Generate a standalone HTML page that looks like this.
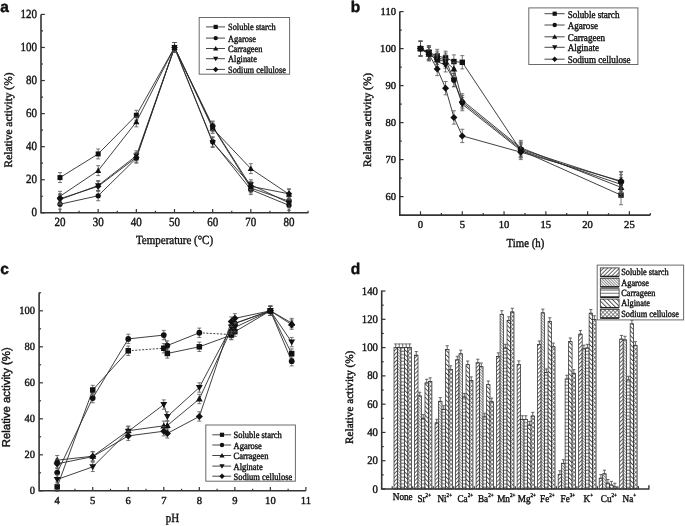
<!DOCTYPE html><html><head><meta charset="utf-8"><style>html,body{margin:0;padding:0;background:#fff;width:685px;height:526px;overflow:hidden}svg{display:block;filter:blur(0.45px)}</style></head><body>
<svg width="685" height="526" viewBox="0 0 685 526" text-rendering="geometricPrecision">
<defs>
<pattern id="p0" patternUnits="userSpaceOnUse" width="2.8" height="2.8" patternTransform="rotate(45)"><rect width="2.8" height="2.8" fill="#fff"/><line x1="0.5" y1="0" x2="0.5" y2="2.8" stroke="#2a2a2a" stroke-width="0.75"/></pattern>
<pattern id="p1" patternUnits="userSpaceOnUse" width="2.0" height="2.0" patternTransform="rotate(-45)"><rect width="2" height="2" fill="#fff"/><line x1="0.5" y1="0" x2="0.5" y2="2" stroke="#444" stroke-width="0.6"/></pattern>
<pattern id="p2" patternUnits="userSpaceOnUse" width="3.4" height="3.4"><rect width="3.4" height="3.4" fill="#fff"/><line x1="0" y1="1" x2="3.4" y2="1" stroke="#333" stroke-width="0.75"/></pattern>
<pattern id="p3" patternUnits="userSpaceOnUse" width="3.2" height="3.2" patternTransform="rotate(-45)"><rect width="3.2" height="3.2" fill="#fff"/><line x1="0.5" y1="0" x2="0.5" y2="3.2" stroke="#2a2a2a" stroke-width="0.8"/></pattern>
<pattern id="p4" patternUnits="userSpaceOnUse" width="2.9" height="2.9" patternTransform="rotate(45)"><rect width="2.9" height="2.9" fill="#fff"/><line x1="0.5" y1="0" x2="0.5" y2="2.9" stroke="#3a3a3a" stroke-width="0.6"/><line x1="0" y1="0.5" x2="2.9" y2="0.5" stroke="#3a3a3a" stroke-width="0.6"/></pattern>
</defs>
<rect width="685" height="526" fill="#fff"/>
<text transform="translate(0.3 12.1) scale(1.0000 1)" font-size="15.5" text-anchor="start" font-family='"Liberation Sans", sans-serif' font-weight="bold" fill="#111" stroke="#111" stroke-width="0.45">a</text>
<path d="M41 14.4 V212.8 H308.3" fill="none" stroke="#333" stroke-width="1.6"/>
<line x1="41" y1="212.8" x2="44.8" y2="212.8" stroke="#333" stroke-width="1.2"/>
<text transform="translate(37 216.2) scale(0.8850 1)" font-size="12.43" text-anchor="end" font-family='"Liberation Serif", serif' font-weight="normal" fill="#111" stroke="#111" stroke-width="0.4">0</text>
<line x1="41" y1="179.73" x2="44.8" y2="179.73" stroke="#333" stroke-width="1.2"/>
<text transform="translate(37 183.13) scale(0.8850 1)" font-size="12.43" text-anchor="end" font-family='"Liberation Serif", serif' font-weight="normal" fill="#111" stroke="#111" stroke-width="0.4">20</text>
<line x1="41" y1="146.67" x2="44.8" y2="146.67" stroke="#333" stroke-width="1.2"/>
<text transform="translate(37 150.07) scale(0.8850 1)" font-size="12.43" text-anchor="end" font-family='"Liberation Serif", serif' font-weight="normal" fill="#111" stroke="#111" stroke-width="0.4">40</text>
<line x1="41" y1="113.6" x2="44.8" y2="113.6" stroke="#333" stroke-width="1.2"/>
<text transform="translate(37 117) scale(0.8850 1)" font-size="12.43" text-anchor="end" font-family='"Liberation Serif", serif' font-weight="normal" fill="#111" stroke="#111" stroke-width="0.4">60</text>
<line x1="41" y1="80.54" x2="44.8" y2="80.54" stroke="#333" stroke-width="1.2"/>
<text transform="translate(37 83.94) scale(0.8850 1)" font-size="12.43" text-anchor="end" font-family='"Liberation Serif", serif' font-weight="normal" fill="#111" stroke="#111" stroke-width="0.4">80</text>
<line x1="41" y1="47.47" x2="44.8" y2="47.47" stroke="#333" stroke-width="1.2"/>
<text transform="translate(37 50.87) scale(0.8850 1)" font-size="12.43" text-anchor="end" font-family='"Liberation Serif", serif' font-weight="normal" fill="#111" stroke="#111" stroke-width="0.4">100</text>
<line x1="41" y1="14.4" x2="44.8" y2="14.4" stroke="#333" stroke-width="1.2"/>
<text transform="translate(37 17.8) scale(0.8850 1)" font-size="12.43" text-anchor="end" font-family='"Liberation Serif", serif' font-weight="normal" fill="#111" stroke="#111" stroke-width="0.4">120</text>
<line x1="41" y1="196.27" x2="43" y2="196.27" stroke="#333" stroke-width="1.2"/>
<line x1="41" y1="163.2" x2="43" y2="163.2" stroke="#333" stroke-width="1.2"/>
<line x1="41" y1="130.13" x2="43" y2="130.13" stroke="#333" stroke-width="1.2"/>
<line x1="41" y1="97.07" x2="43" y2="97.07" stroke="#333" stroke-width="1.2"/>
<line x1="41" y1="64" x2="43" y2="64" stroke="#333" stroke-width="1.2"/>
<line x1="41" y1="30.94" x2="43" y2="30.94" stroke="#333" stroke-width="1.2"/>
<line x1="60" y1="212.8" x2="60" y2="209" stroke="#333" stroke-width="1.2"/>
<text transform="translate(60 225.7) scale(0.8850 1)" font-size="12.43" text-anchor="middle" font-family='"Liberation Serif", serif' font-weight="normal" fill="#111" stroke="#111" stroke-width="0.4">20</text>
<line x1="98.17" y1="212.8" x2="98.17" y2="209" stroke="#333" stroke-width="1.2"/>
<text transform="translate(98.17 225.7) scale(0.8850 1)" font-size="12.43" text-anchor="middle" font-family='"Liberation Serif", serif' font-weight="normal" fill="#111" stroke="#111" stroke-width="0.4">30</text>
<line x1="136.33" y1="212.8" x2="136.33" y2="209" stroke="#333" stroke-width="1.2"/>
<text transform="translate(136.33 225.7) scale(0.8850 1)" font-size="12.43" text-anchor="middle" font-family='"Liberation Serif", serif' font-weight="normal" fill="#111" stroke="#111" stroke-width="0.4">40</text>
<line x1="174.5" y1="212.8" x2="174.5" y2="209" stroke="#333" stroke-width="1.2"/>
<text transform="translate(174.5 225.7) scale(0.8850 1)" font-size="12.43" text-anchor="middle" font-family='"Liberation Serif", serif' font-weight="normal" fill="#111" stroke="#111" stroke-width="0.4">50</text>
<line x1="212.67" y1="212.8" x2="212.67" y2="209" stroke="#333" stroke-width="1.2"/>
<text transform="translate(212.67 225.7) scale(0.8850 1)" font-size="12.43" text-anchor="middle" font-family='"Liberation Serif", serif' font-weight="normal" fill="#111" stroke="#111" stroke-width="0.4">60</text>
<line x1="250.84" y1="212.8" x2="250.84" y2="209" stroke="#333" stroke-width="1.2"/>
<text transform="translate(250.84 225.7) scale(0.8850 1)" font-size="12.43" text-anchor="middle" font-family='"Liberation Serif", serif' font-weight="normal" fill="#111" stroke="#111" stroke-width="0.4">70</text>
<line x1="289" y1="212.8" x2="289" y2="209" stroke="#333" stroke-width="1.2"/>
<text transform="translate(289 225.7) scale(0.8850 1)" font-size="12.43" text-anchor="middle" font-family='"Liberation Serif", serif' font-weight="normal" fill="#111" stroke="#111" stroke-width="0.4">80</text>
<line x1="79.08" y1="212.8" x2="79.08" y2="210.8" stroke="#333" stroke-width="1.2"/>
<line x1="117.25" y1="212.8" x2="117.25" y2="210.8" stroke="#333" stroke-width="1.2"/>
<line x1="155.42" y1="212.8" x2="155.42" y2="210.8" stroke="#333" stroke-width="1.2"/>
<line x1="193.58" y1="212.8" x2="193.58" y2="210.8" stroke="#333" stroke-width="1.2"/>
<line x1="231.75" y1="212.8" x2="231.75" y2="210.8" stroke="#333" stroke-width="1.2"/>
<line x1="269.92" y1="212.8" x2="269.92" y2="210.8" stroke="#333" stroke-width="1.2"/>
<line x1="308.09" y1="212.8" x2="308.09" y2="210.8" stroke="#333" stroke-width="1.2"/>
<text transform="translate(11.5 120) rotate(-90) scale(1 1)" font-size="11.4" text-anchor="middle" font-family='"Liberation Serif", serif' font-weight="normal" fill="#111" stroke="#111" stroke-width="0.4">Relative activity (%)</text>
<text transform="translate(174.5 244.3) scale(0.8850 1)" font-size="12.43" text-anchor="middle" font-family='"Liberation Serif", serif' font-weight="normal" fill="#111" stroke="#111" stroke-width="0.4">Temperature (°C)</text>
<line x1="60" y1="177.58" x2="98.17" y2="153.94" stroke="#2b2b2b" stroke-width="0.9"/>
<line x1="98.17" y1="153.94" x2="136.33" y2="115.26" stroke="#2b2b2b" stroke-width="0.9"/>
<line x1="136.33" y1="115.26" x2="174.5" y2="47.47" stroke="#2b2b2b" stroke-width="0.9"/>
<line x1="174.5" y1="47.47" x2="212.67" y2="126.83" stroke="#2b2b2b" stroke-width="0.9"/>
<line x1="212.67" y1="126.83" x2="250.84" y2="188" stroke="#2b2b2b" stroke-width="0.9"/>
<line x1="250.84" y1="188" x2="289" y2="201.23" stroke="#2b2b2b" stroke-width="0.9"/>
<line x1="60" y1="204.2" x2="98.17" y2="195.77" stroke="#2b2b2b" stroke-width="0.9"/>
<line x1="98.17" y1="195.77" x2="136.33" y2="158.24" stroke="#2b2b2b" stroke-width="0.9"/>
<line x1="136.33" y1="158.24" x2="174.5" y2="47.47" stroke="#2b2b2b" stroke-width="0.9"/>
<line x1="174.5" y1="47.47" x2="212.67" y2="141.71" stroke="#2b2b2b" stroke-width="0.9"/>
<line x1="212.67" y1="141.71" x2="250.84" y2="189.65" stroke="#2b2b2b" stroke-width="0.9"/>
<line x1="250.84" y1="189.65" x2="289" y2="205.36" stroke="#2b2b2b" stroke-width="0.9"/>
<line x1="60" y1="196.27" x2="98.17" y2="170.64" stroke="#2b2b2b" stroke-width="0.9"/>
<line x1="98.17" y1="170.64" x2="136.33" y2="121.87" stroke="#2b2b2b" stroke-width="0.9"/>
<line x1="136.33" y1="121.87" x2="174.5" y2="47.47" stroke="#2b2b2b" stroke-width="0.9"/>
<line x1="174.5" y1="47.47" x2="212.67" y2="128.48" stroke="#2b2b2b" stroke-width="0.9"/>
<line x1="212.67" y1="128.48" x2="250.84" y2="168.66" stroke="#2b2b2b" stroke-width="0.9"/>
<line x1="250.84" y1="168.66" x2="289" y2="194.28" stroke="#2b2b2b" stroke-width="0.9"/>
<line x1="60" y1="199.57" x2="98.17" y2="185.52" stroke="#2b2b2b" stroke-width="0.9"/>
<line x1="98.17" y1="185.52" x2="136.33" y2="155.76" stroke="#2b2b2b" stroke-width="0.9"/>
<line x1="136.33" y1="155.76" x2="174.5" y2="47.47" stroke="#2b2b2b" stroke-width="0.9"/>
<line x1="174.5" y1="47.47" x2="212.67" y2="142.53" stroke="#2b2b2b" stroke-width="0.9"/>
<line x1="212.67" y1="142.53" x2="250.84" y2="184.69" stroke="#2b2b2b" stroke-width="0.9"/>
<line x1="250.84" y1="184.69" x2="289" y2="202.88" stroke="#2b2b2b" stroke-width="0.9"/>
<line x1="60" y1="198.75" x2="98.17" y2="186.35" stroke="#2b2b2b" stroke-width="0.9"/>
<line x1="98.17" y1="186.35" x2="136.33" y2="157.41" stroke="#2b2b2b" stroke-width="0.9"/>
<line x1="136.33" y1="157.41" x2="174.5" y2="47.47" stroke="#2b2b2b" stroke-width="0.9"/>
<line x1="174.5" y1="47.47" x2="212.67" y2="126" stroke="#2b2b2b" stroke-width="0.9"/>
<line x1="212.67" y1="126" x2="250.84" y2="186.35" stroke="#2b2b2b" stroke-width="0.9"/>
<line x1="250.84" y1="186.35" x2="289" y2="193.79" stroke="#2b2b2b" stroke-width="0.9"/>
<line x1="60" y1="172.62" x2="60" y2="182.54" stroke="#555" stroke-width="0.8"/>
<line x1="58" y1="172.62" x2="62" y2="172.62" stroke="#555" stroke-width="0.8"/>
<line x1="58" y1="182.54" x2="62" y2="182.54" stroke="#555" stroke-width="0.8"/>
<line x1="98.17" y1="148.98" x2="98.17" y2="158.9" stroke="#555" stroke-width="0.8"/>
<line x1="96.17" y1="148.98" x2="100.17" y2="148.98" stroke="#555" stroke-width="0.8"/>
<line x1="96.17" y1="158.9" x2="100.17" y2="158.9" stroke="#555" stroke-width="0.8"/>
<line x1="136.33" y1="110.3" x2="136.33" y2="120.22" stroke="#555" stroke-width="0.8"/>
<line x1="134.33" y1="110.3" x2="138.33" y2="110.3" stroke="#555" stroke-width="0.8"/>
<line x1="134.33" y1="120.22" x2="138.33" y2="120.22" stroke="#555" stroke-width="0.8"/>
<line x1="174.5" y1="42.51" x2="174.5" y2="52.43" stroke="#555" stroke-width="0.8"/>
<line x1="172.5" y1="42.51" x2="176.5" y2="42.51" stroke="#555" stroke-width="0.8"/>
<line x1="172.5" y1="52.43" x2="176.5" y2="52.43" stroke="#555" stroke-width="0.8"/>
<line x1="212.67" y1="121.87" x2="212.67" y2="131.79" stroke="#555" stroke-width="0.8"/>
<line x1="210.67" y1="121.87" x2="214.67" y2="121.87" stroke="#555" stroke-width="0.8"/>
<line x1="210.67" y1="131.79" x2="214.67" y2="131.79" stroke="#555" stroke-width="0.8"/>
<line x1="250.84" y1="183.04" x2="250.84" y2="192.96" stroke="#555" stroke-width="0.8"/>
<line x1="248.84" y1="183.04" x2="252.84" y2="183.04" stroke="#555" stroke-width="0.8"/>
<line x1="248.84" y1="192.96" x2="252.84" y2="192.96" stroke="#555" stroke-width="0.8"/>
<line x1="289" y1="196.27" x2="289" y2="206.19" stroke="#555" stroke-width="0.8"/>
<line x1="287" y1="196.27" x2="291" y2="196.27" stroke="#555" stroke-width="0.8"/>
<line x1="287" y1="206.19" x2="291" y2="206.19" stroke="#555" stroke-width="0.8"/>
<rect x="57.5" y="175.08" width="5" height="5" fill="#111"/>
<rect x="95.67" y="151.44" width="5" height="5" fill="#111"/>
<rect x="133.83" y="112.76" width="5" height="5" fill="#111"/>
<rect x="172" y="44.97" width="5" height="5" fill="#111"/>
<rect x="210.17" y="124.33" width="5" height="5" fill="#111"/>
<rect x="248.34" y="185.5" width="5" height="5" fill="#111"/>
<rect x="286.5" y="198.73" width="5" height="5" fill="#111"/>
<line x1="60" y1="199.24" x2="60" y2="209.16" stroke="#555" stroke-width="0.8"/>
<line x1="58" y1="199.24" x2="62" y2="199.24" stroke="#555" stroke-width="0.8"/>
<line x1="58" y1="209.16" x2="62" y2="209.16" stroke="#555" stroke-width="0.8"/>
<line x1="98.17" y1="190.81" x2="98.17" y2="200.73" stroke="#555" stroke-width="0.8"/>
<line x1="96.17" y1="190.81" x2="100.17" y2="190.81" stroke="#555" stroke-width="0.8"/>
<line x1="96.17" y1="200.73" x2="100.17" y2="200.73" stroke="#555" stroke-width="0.8"/>
<line x1="136.33" y1="153.28" x2="136.33" y2="163.2" stroke="#555" stroke-width="0.8"/>
<line x1="134.33" y1="153.28" x2="138.33" y2="153.28" stroke="#555" stroke-width="0.8"/>
<line x1="134.33" y1="163.2" x2="138.33" y2="163.2" stroke="#555" stroke-width="0.8"/>
<line x1="174.5" y1="42.51" x2="174.5" y2="52.43" stroke="#555" stroke-width="0.8"/>
<line x1="172.5" y1="42.51" x2="176.5" y2="42.51" stroke="#555" stroke-width="0.8"/>
<line x1="172.5" y1="52.43" x2="176.5" y2="52.43" stroke="#555" stroke-width="0.8"/>
<line x1="212.67" y1="136.75" x2="212.67" y2="146.67" stroke="#555" stroke-width="0.8"/>
<line x1="210.67" y1="136.75" x2="214.67" y2="136.75" stroke="#555" stroke-width="0.8"/>
<line x1="210.67" y1="146.67" x2="214.67" y2="146.67" stroke="#555" stroke-width="0.8"/>
<line x1="250.84" y1="184.69" x2="250.84" y2="194.61" stroke="#555" stroke-width="0.8"/>
<line x1="248.84" y1="184.69" x2="252.84" y2="184.69" stroke="#555" stroke-width="0.8"/>
<line x1="248.84" y1="194.61" x2="252.84" y2="194.61" stroke="#555" stroke-width="0.8"/>
<line x1="289" y1="200.4" x2="289" y2="210.32" stroke="#555" stroke-width="0.8"/>
<line x1="287" y1="200.4" x2="291" y2="200.4" stroke="#555" stroke-width="0.8"/>
<line x1="287" y1="210.32" x2="291" y2="210.32" stroke="#555" stroke-width="0.8"/>
<circle cx="60" cy="204.2" r="2.62" fill="#111"/>
<circle cx="98.17" cy="195.77" r="2.62" fill="#111"/>
<circle cx="136.33" cy="158.24" r="2.62" fill="#111"/>
<circle cx="174.5" cy="47.47" r="2.62" fill="#111"/>
<circle cx="212.67" cy="141.71" r="2.62" fill="#111"/>
<circle cx="250.84" cy="189.65" r="2.62" fill="#111"/>
<circle cx="289" cy="205.36" r="2.62" fill="#111"/>
<line x1="60" y1="191.31" x2="60" y2="201.23" stroke="#555" stroke-width="0.8"/>
<line x1="58" y1="191.31" x2="62" y2="191.31" stroke="#555" stroke-width="0.8"/>
<line x1="58" y1="201.23" x2="62" y2="201.23" stroke="#555" stroke-width="0.8"/>
<line x1="98.17" y1="165.68" x2="98.17" y2="175.6" stroke="#555" stroke-width="0.8"/>
<line x1="96.17" y1="165.68" x2="100.17" y2="165.68" stroke="#555" stroke-width="0.8"/>
<line x1="96.17" y1="175.6" x2="100.17" y2="175.6" stroke="#555" stroke-width="0.8"/>
<line x1="136.33" y1="116.91" x2="136.33" y2="126.83" stroke="#555" stroke-width="0.8"/>
<line x1="134.33" y1="116.91" x2="138.33" y2="116.91" stroke="#555" stroke-width="0.8"/>
<line x1="134.33" y1="126.83" x2="138.33" y2="126.83" stroke="#555" stroke-width="0.8"/>
<line x1="174.5" y1="42.51" x2="174.5" y2="52.43" stroke="#555" stroke-width="0.8"/>
<line x1="172.5" y1="42.51" x2="176.5" y2="42.51" stroke="#555" stroke-width="0.8"/>
<line x1="172.5" y1="52.43" x2="176.5" y2="52.43" stroke="#555" stroke-width="0.8"/>
<line x1="212.67" y1="123.52" x2="212.67" y2="133.44" stroke="#555" stroke-width="0.8"/>
<line x1="210.67" y1="123.52" x2="214.67" y2="123.52" stroke="#555" stroke-width="0.8"/>
<line x1="210.67" y1="133.44" x2="214.67" y2="133.44" stroke="#555" stroke-width="0.8"/>
<line x1="250.84" y1="163.7" x2="250.84" y2="173.62" stroke="#555" stroke-width="0.8"/>
<line x1="248.84" y1="163.7" x2="252.84" y2="163.7" stroke="#555" stroke-width="0.8"/>
<line x1="248.84" y1="173.62" x2="252.84" y2="173.62" stroke="#555" stroke-width="0.8"/>
<line x1="289" y1="189.32" x2="289" y2="199.24" stroke="#555" stroke-width="0.8"/>
<line x1="287" y1="189.32" x2="291" y2="189.32" stroke="#555" stroke-width="0.8"/>
<line x1="287" y1="199.24" x2="291" y2="199.24" stroke="#555" stroke-width="0.8"/>
<polygon points="60,193.14 56.88,198.61 63.12,198.61" fill="#111"/>
<polygon points="98.17,167.52 95.04,172.98 101.29,172.98" fill="#111"/>
<polygon points="136.33,118.74 133.21,124.21 139.46,124.21" fill="#111"/>
<polygon points="174.5,44.34 171.38,49.81 177.63,49.81" fill="#111"/>
<polygon points="212.67,125.36 209.54,130.83 215.79,130.83" fill="#111"/>
<polygon points="250.84,165.53 247.71,171 253.96,171" fill="#111"/>
<polygon points="289,191.16 285.88,196.63 292.13,196.63" fill="#111"/>
<line x1="60" y1="194.61" x2="60" y2="204.53" stroke="#555" stroke-width="0.8"/>
<line x1="58" y1="194.61" x2="62" y2="194.61" stroke="#555" stroke-width="0.8"/>
<line x1="58" y1="204.53" x2="62" y2="204.53" stroke="#555" stroke-width="0.8"/>
<line x1="98.17" y1="180.56" x2="98.17" y2="190.48" stroke="#555" stroke-width="0.8"/>
<line x1="96.17" y1="180.56" x2="100.17" y2="180.56" stroke="#555" stroke-width="0.8"/>
<line x1="96.17" y1="190.48" x2="100.17" y2="190.48" stroke="#555" stroke-width="0.8"/>
<line x1="136.33" y1="150.8" x2="136.33" y2="160.72" stroke="#555" stroke-width="0.8"/>
<line x1="134.33" y1="150.8" x2="138.33" y2="150.8" stroke="#555" stroke-width="0.8"/>
<line x1="134.33" y1="160.72" x2="138.33" y2="160.72" stroke="#555" stroke-width="0.8"/>
<line x1="174.5" y1="42.51" x2="174.5" y2="52.43" stroke="#555" stroke-width="0.8"/>
<line x1="172.5" y1="42.51" x2="176.5" y2="42.51" stroke="#555" stroke-width="0.8"/>
<line x1="172.5" y1="52.43" x2="176.5" y2="52.43" stroke="#555" stroke-width="0.8"/>
<line x1="212.67" y1="137.57" x2="212.67" y2="147.49" stroke="#555" stroke-width="0.8"/>
<line x1="210.67" y1="137.57" x2="214.67" y2="137.57" stroke="#555" stroke-width="0.8"/>
<line x1="210.67" y1="147.49" x2="214.67" y2="147.49" stroke="#555" stroke-width="0.8"/>
<line x1="250.84" y1="179.73" x2="250.84" y2="189.65" stroke="#555" stroke-width="0.8"/>
<line x1="248.84" y1="179.73" x2="252.84" y2="179.73" stroke="#555" stroke-width="0.8"/>
<line x1="248.84" y1="189.65" x2="252.84" y2="189.65" stroke="#555" stroke-width="0.8"/>
<line x1="289" y1="197.92" x2="289" y2="207.84" stroke="#555" stroke-width="0.8"/>
<line x1="287" y1="197.92" x2="291" y2="197.92" stroke="#555" stroke-width="0.8"/>
<line x1="287" y1="207.84" x2="291" y2="207.84" stroke="#555" stroke-width="0.8"/>
<polygon points="60,202.7 56.88,197.23 63.12,197.23" fill="#111"/>
<polygon points="98.17,188.65 95.04,183.18 101.29,183.18" fill="#111"/>
<polygon points="136.33,158.89 133.21,153.42 139.46,153.42" fill="#111"/>
<polygon points="174.5,50.59 171.38,45.13 177.63,45.13" fill="#111"/>
<polygon points="212.67,145.66 209.54,140.19 215.79,140.19" fill="#111"/>
<polygon points="250.84,187.82 247.71,182.35 253.96,182.35" fill="#111"/>
<polygon points="289,206.01 285.88,200.54 292.13,200.54" fill="#111"/>
<line x1="60" y1="193.79" x2="60" y2="203.71" stroke="#555" stroke-width="0.8"/>
<line x1="58" y1="193.79" x2="62" y2="193.79" stroke="#555" stroke-width="0.8"/>
<line x1="58" y1="203.71" x2="62" y2="203.71" stroke="#555" stroke-width="0.8"/>
<line x1="98.17" y1="181.39" x2="98.17" y2="191.31" stroke="#555" stroke-width="0.8"/>
<line x1="96.17" y1="181.39" x2="100.17" y2="181.39" stroke="#555" stroke-width="0.8"/>
<line x1="96.17" y1="191.31" x2="100.17" y2="191.31" stroke="#555" stroke-width="0.8"/>
<line x1="136.33" y1="152.45" x2="136.33" y2="162.37" stroke="#555" stroke-width="0.8"/>
<line x1="134.33" y1="152.45" x2="138.33" y2="152.45" stroke="#555" stroke-width="0.8"/>
<line x1="134.33" y1="162.37" x2="138.33" y2="162.37" stroke="#555" stroke-width="0.8"/>
<line x1="174.5" y1="42.51" x2="174.5" y2="52.43" stroke="#555" stroke-width="0.8"/>
<line x1="172.5" y1="42.51" x2="176.5" y2="42.51" stroke="#555" stroke-width="0.8"/>
<line x1="172.5" y1="52.43" x2="176.5" y2="52.43" stroke="#555" stroke-width="0.8"/>
<line x1="212.67" y1="121.04" x2="212.67" y2="130.96" stroke="#555" stroke-width="0.8"/>
<line x1="210.67" y1="121.04" x2="214.67" y2="121.04" stroke="#555" stroke-width="0.8"/>
<line x1="210.67" y1="130.96" x2="214.67" y2="130.96" stroke="#555" stroke-width="0.8"/>
<line x1="250.84" y1="181.39" x2="250.84" y2="191.31" stroke="#555" stroke-width="0.8"/>
<line x1="248.84" y1="181.39" x2="252.84" y2="181.39" stroke="#555" stroke-width="0.8"/>
<line x1="248.84" y1="191.31" x2="252.84" y2="191.31" stroke="#555" stroke-width="0.8"/>
<line x1="289" y1="188.83" x2="289" y2="198.75" stroke="#555" stroke-width="0.8"/>
<line x1="287" y1="188.83" x2="291" y2="188.83" stroke="#555" stroke-width="0.8"/>
<line x1="287" y1="198.75" x2="291" y2="198.75" stroke="#555" stroke-width="0.8"/>
<polygon points="60,195.5 63.25,198.75 60,202 56.75,198.75" fill="#111"/>
<polygon points="98.17,183.1 101.42,186.35 98.17,189.6 94.92,186.35" fill="#111"/>
<polygon points="136.33,154.16 139.58,157.41 136.33,160.66 133.08,157.41" fill="#111"/>
<polygon points="174.5,44.22 177.75,47.47 174.5,50.72 171.25,47.47" fill="#111"/>
<polygon points="212.67,122.75 215.92,126 212.67,129.25 209.42,126" fill="#111"/>
<polygon points="250.84,183.1 254.09,186.35 250.84,189.6 247.59,186.35" fill="#111"/>
<polygon points="289,190.54 292.25,193.79 289,197.04 285.75,193.79" fill="#111"/>
<rect x="199.2" y="17.5" width="90.4" height="56.7" fill="#fff" stroke="#6a6a6a" stroke-width="1"/>
<line x1="206" y1="26.9" x2="225" y2="26.9" stroke="#333" stroke-width="0.9"/>
<rect x="213.6" y="24.8" width="4.2" height="4.2" fill="#111"/>
<text transform="translate(228 30.43) scale(0.8850 1)" font-size="9.49" text-anchor="start" font-family='"Liberation Serif", serif' font-weight="normal" fill="#111" stroke="#111" stroke-width="0.4">Soluble starch</text>
<line x1="206" y1="38.1" x2="225" y2="38.1" stroke="#333" stroke-width="0.9"/>
<circle cx="215.7" cy="38.1" r="2.21" fill="#111"/>
<text transform="translate(228 41.63) scale(0.8850 1)" font-size="9.49" text-anchor="start" font-family='"Liberation Serif", serif' font-weight="normal" fill="#111" stroke="#111" stroke-width="0.4">Agarose</text>
<line x1="206" y1="48.5" x2="225" y2="48.5" stroke="#333" stroke-width="0.9"/>
<polygon points="215.7,45.88 213.07,50.47 218.32,50.47" fill="#111"/>
<text transform="translate(228 52.03) scale(0.8850 1)" font-size="9.49" text-anchor="start" font-family='"Liberation Serif", serif' font-weight="normal" fill="#111" stroke="#111" stroke-width="0.4">Carrageen</text>
<line x1="206" y1="58.7" x2="225" y2="58.7" stroke="#333" stroke-width="0.9"/>
<polygon points="215.7,61.33 213.07,56.73 218.32,56.73" fill="#111"/>
<text transform="translate(228 62.23) scale(0.8850 1)" font-size="9.49" text-anchor="start" font-family='"Liberation Serif", serif' font-weight="normal" fill="#111" stroke="#111" stroke-width="0.4">Alginate</text>
<line x1="206" y1="69.4" x2="225" y2="69.4" stroke="#333" stroke-width="0.9"/>
<polygon points="215.7,66.67 218.43,69.4 215.7,72.13 212.97,69.4" fill="#111"/>
<text transform="translate(228 72.93) scale(0.8850 1)" font-size="9.49" text-anchor="start" font-family='"Liberation Serif", serif' font-weight="normal" fill="#111" stroke="#111" stroke-width="0.4">Sodium cellulose</text>
<text transform="translate(350.7 12) scale(1.0000 1)" font-size="15.5" text-anchor="start" font-family='"Liberation Sans", sans-serif' font-weight="bold" fill="#111" stroke="#111" stroke-width="0.45">b</text>
<path d="M399.8 11.6 V215.1 H650.4" fill="none" stroke="#333" stroke-width="1.6"/>
<line x1="399.8" y1="196.6" x2="403.6" y2="196.6" stroke="#333" stroke-width="1.2"/>
<text transform="translate(396 200.1) scale(1.0000 1)" font-size="10.6" text-anchor="end" font-family='"Liberation Serif", serif' font-weight="normal" fill="#111" stroke="#111" stroke-width="0.4">60</text>
<line x1="399.8" y1="159.6" x2="403.6" y2="159.6" stroke="#333" stroke-width="1.2"/>
<text transform="translate(396 163.1) scale(1.0000 1)" font-size="10.6" text-anchor="end" font-family='"Liberation Serif", serif' font-weight="normal" fill="#111" stroke="#111" stroke-width="0.4">70</text>
<line x1="399.8" y1="122.6" x2="403.6" y2="122.6" stroke="#333" stroke-width="1.2"/>
<text transform="translate(396 126.1) scale(1.0000 1)" font-size="10.6" text-anchor="end" font-family='"Liberation Serif", serif' font-weight="normal" fill="#111" stroke="#111" stroke-width="0.4">80</text>
<line x1="399.8" y1="85.6" x2="403.6" y2="85.6" stroke="#333" stroke-width="1.2"/>
<text transform="translate(396 89.1) scale(1.0000 1)" font-size="10.6" text-anchor="end" font-family='"Liberation Serif", serif' font-weight="normal" fill="#111" stroke="#111" stroke-width="0.4">90</text>
<line x1="399.8" y1="48.6" x2="403.6" y2="48.6" stroke="#333" stroke-width="1.2"/>
<text transform="translate(396 52.1) scale(1.0000 1)" font-size="10.6" text-anchor="end" font-family='"Liberation Serif", serif' font-weight="normal" fill="#111" stroke="#111" stroke-width="0.4">100</text>
<line x1="399.8" y1="11.6" x2="403.6" y2="11.6" stroke="#333" stroke-width="1.2"/>
<text transform="translate(396 15.1) scale(1.0000 1)" font-size="10.6" text-anchor="end" font-family='"Liberation Serif", serif' font-weight="normal" fill="#111" stroke="#111" stroke-width="0.4">110</text>
<line x1="399.8" y1="178.1" x2="401.8" y2="178.1" stroke="#333" stroke-width="1.2"/>
<line x1="399.8" y1="141.1" x2="401.8" y2="141.1" stroke="#333" stroke-width="1.2"/>
<line x1="399.8" y1="104.1" x2="401.8" y2="104.1" stroke="#333" stroke-width="1.2"/>
<line x1="399.8" y1="67.1" x2="401.8" y2="67.1" stroke="#333" stroke-width="1.2"/>
<line x1="399.8" y1="30.1" x2="401.8" y2="30.1" stroke="#333" stroke-width="1.2"/>
<line x1="420.5" y1="215.1" x2="420.5" y2="211.3" stroke="#333" stroke-width="1.2"/>
<text transform="translate(420.5 228.3) scale(1.0000 1)" font-size="10.6" text-anchor="middle" font-family='"Liberation Serif", serif' font-weight="normal" fill="#111" stroke="#111" stroke-width="0.4">0</text>
<line x1="462.28" y1="215.1" x2="462.28" y2="211.3" stroke="#333" stroke-width="1.2"/>
<text transform="translate(462.28 228.3) scale(1.0000 1)" font-size="10.6" text-anchor="middle" font-family='"Liberation Serif", serif' font-weight="normal" fill="#111" stroke="#111" stroke-width="0.4">5</text>
<line x1="504.06" y1="215.1" x2="504.06" y2="211.3" stroke="#333" stroke-width="1.2"/>
<text transform="translate(504.06 228.3) scale(1.0000 1)" font-size="10.6" text-anchor="middle" font-family='"Liberation Serif", serif' font-weight="normal" fill="#111" stroke="#111" stroke-width="0.4">10</text>
<line x1="545.84" y1="215.1" x2="545.84" y2="211.3" stroke="#333" stroke-width="1.2"/>
<text transform="translate(545.84 228.3) scale(1.0000 1)" font-size="10.6" text-anchor="middle" font-family='"Liberation Serif", serif' font-weight="normal" fill="#111" stroke="#111" stroke-width="0.4">15</text>
<line x1="587.62" y1="215.1" x2="587.62" y2="211.3" stroke="#333" stroke-width="1.2"/>
<text transform="translate(587.62 228.3) scale(1.0000 1)" font-size="10.6" text-anchor="middle" font-family='"Liberation Serif", serif' font-weight="normal" fill="#111" stroke="#111" stroke-width="0.4">20</text>
<line x1="629.4" y1="215.1" x2="629.4" y2="211.3" stroke="#333" stroke-width="1.2"/>
<text transform="translate(629.4 228.3) scale(1.0000 1)" font-size="10.6" text-anchor="middle" font-family='"Liberation Serif", serif' font-weight="normal" fill="#111" stroke="#111" stroke-width="0.4">25</text>
<line x1="441.39" y1="215.1" x2="441.39" y2="213.1" stroke="#333" stroke-width="1.2"/>
<line x1="483.17" y1="215.1" x2="483.17" y2="213.1" stroke="#333" stroke-width="1.2"/>
<line x1="524.95" y1="215.1" x2="524.95" y2="213.1" stroke="#333" stroke-width="1.2"/>
<line x1="566.73" y1="215.1" x2="566.73" y2="213.1" stroke="#333" stroke-width="1.2"/>
<line x1="608.51" y1="215.1" x2="608.51" y2="213.1" stroke="#333" stroke-width="1.2"/>
<line x1="650.29" y1="215.1" x2="650.29" y2="213.1" stroke="#333" stroke-width="1.2"/>
<text transform="translate(370.5 120) rotate(-90) scale(1 1)" font-size="11.3" text-anchor="middle" font-family='"Liberation Serif", serif' font-weight="normal" fill="#111" stroke="#111" stroke-width="0.4">Relative activity (%)</text>
<text transform="translate(525.4 246.7) scale(0.8850 1)" font-size="12.2" text-anchor="middle" font-family='"Liberation Serif", serif' font-weight="normal" fill="#111" stroke="#111" stroke-width="0.4">Time (h)</text>
<line x1="420.5" y1="48.6" x2="428.86" y2="52.3" stroke="#2b2b2b" stroke-width="0.9"/>
<line x1="428.86" y1="52.3" x2="437.21" y2="56" stroke="#2b2b2b" stroke-width="0.9"/>
<line x1="437.21" y1="56" x2="445.57" y2="57.85" stroke="#2b2b2b" stroke-width="0.9"/>
<line x1="445.57" y1="57.85" x2="453.92" y2="61.55" stroke="#2b2b2b" stroke-width="0.9"/>
<line x1="453.92" y1="61.55" x2="462.28" y2="62.29" stroke="#2b2b2b" stroke-width="0.9"/>
<line x1="462.28" y1="62.29" x2="520.77" y2="150.35" stroke="#2b2b2b" stroke-width="0.9"/>
<line x1="520.77" y1="150.35" x2="621.04" y2="195.12" stroke="#2b2b2b" stroke-width="0.9"/>
<line x1="420.5" y1="48.6" x2="428.86" y2="53.04" stroke="#2b2b2b" stroke-width="0.9"/>
<line x1="428.86" y1="53.04" x2="437.21" y2="57.85" stroke="#2b2b2b" stroke-width="0.9"/>
<line x1="437.21" y1="57.85" x2="445.57" y2="59.7" stroke="#2b2b2b" stroke-width="0.9"/>
<line x1="445.57" y1="59.7" x2="453.92" y2="80.05" stroke="#2b2b2b" stroke-width="0.9"/>
<line x1="453.92" y1="80.05" x2="462.28" y2="102.25" stroke="#2b2b2b" stroke-width="0.9"/>
<line x1="462.28" y1="102.25" x2="520.77" y2="149.24" stroke="#2b2b2b" stroke-width="0.9"/>
<line x1="520.77" y1="149.24" x2="621.04" y2="181.8" stroke="#2b2b2b" stroke-width="0.9"/>
<line x1="420.5" y1="48.6" x2="428.86" y2="54.15" stroke="#2b2b2b" stroke-width="0.9"/>
<line x1="428.86" y1="54.15" x2="437.21" y2="59.7" stroke="#2b2b2b" stroke-width="0.9"/>
<line x1="437.21" y1="59.7" x2="445.57" y2="61.55" stroke="#2b2b2b" stroke-width="0.9"/>
<line x1="445.57" y1="61.55" x2="453.92" y2="68.95" stroke="#2b2b2b" stroke-width="0.9"/>
<line x1="453.92" y1="68.95" x2="462.28" y2="100.4" stroke="#2b2b2b" stroke-width="0.9"/>
<line x1="462.28" y1="100.4" x2="520.77" y2="147.76" stroke="#2b2b2b" stroke-width="0.9"/>
<line x1="520.77" y1="147.76" x2="621.04" y2="187.35" stroke="#2b2b2b" stroke-width="0.9"/>
<line x1="420.5" y1="48.6" x2="428.86" y2="52.3" stroke="#2b2b2b" stroke-width="0.9"/>
<line x1="428.86" y1="52.3" x2="437.21" y2="61.55" stroke="#2b2b2b" stroke-width="0.9"/>
<line x1="437.21" y1="61.55" x2="445.57" y2="65.25" stroke="#2b2b2b" stroke-width="0.9"/>
<line x1="445.57" y1="65.25" x2="453.92" y2="80.05" stroke="#2b2b2b" stroke-width="0.9"/>
<line x1="453.92" y1="80.05" x2="462.28" y2="104.1" stroke="#2b2b2b" stroke-width="0.9"/>
<line x1="462.28" y1="104.1" x2="520.77" y2="150.35" stroke="#2b2b2b" stroke-width="0.9"/>
<line x1="520.77" y1="150.35" x2="621.04" y2="184.39" stroke="#2b2b2b" stroke-width="0.9"/>
<line x1="420.5" y1="48.6" x2="428.86" y2="54.15" stroke="#2b2b2b" stroke-width="0.9"/>
<line x1="428.86" y1="54.15" x2="437.21" y2="68.95" stroke="#2b2b2b" stroke-width="0.9"/>
<line x1="437.21" y1="68.95" x2="445.57" y2="88.19" stroke="#2b2b2b" stroke-width="0.9"/>
<line x1="445.57" y1="88.19" x2="453.92" y2="117.42" stroke="#2b2b2b" stroke-width="0.9"/>
<line x1="453.92" y1="117.42" x2="462.28" y2="135.92" stroke="#2b2b2b" stroke-width="0.9"/>
<line x1="462.28" y1="135.92" x2="520.77" y2="152.2" stroke="#2b2b2b" stroke-width="0.9"/>
<line x1="520.77" y1="152.2" x2="621.04" y2="181.06" stroke="#2b2b2b" stroke-width="0.9"/>
<line x1="420.5" y1="41.2" x2="420.5" y2="56" stroke="#555" stroke-width="0.8"/>
<line x1="418.5" y1="41.2" x2="422.5" y2="41.2" stroke="#555" stroke-width="0.8"/>
<line x1="418.5" y1="56" x2="422.5" y2="56" stroke="#555" stroke-width="0.8"/>
<line x1="428.86" y1="45.64" x2="428.86" y2="58.96" stroke="#555" stroke-width="0.8"/>
<line x1="426.86" y1="45.64" x2="430.86" y2="45.64" stroke="#555" stroke-width="0.8"/>
<line x1="426.86" y1="58.96" x2="430.86" y2="58.96" stroke="#555" stroke-width="0.8"/>
<line x1="437.21" y1="49.34" x2="437.21" y2="62.66" stroke="#555" stroke-width="0.8"/>
<line x1="435.21" y1="49.34" x2="439.21" y2="49.34" stroke="#555" stroke-width="0.8"/>
<line x1="435.21" y1="62.66" x2="439.21" y2="62.66" stroke="#555" stroke-width="0.8"/>
<line x1="445.57" y1="51.19" x2="445.57" y2="64.51" stroke="#555" stroke-width="0.8"/>
<line x1="443.57" y1="51.19" x2="447.57" y2="51.19" stroke="#555" stroke-width="0.8"/>
<line x1="443.57" y1="64.51" x2="447.57" y2="64.51" stroke="#555" stroke-width="0.8"/>
<line x1="453.92" y1="54.89" x2="453.92" y2="68.21" stroke="#555" stroke-width="0.8"/>
<line x1="451.92" y1="54.89" x2="455.92" y2="54.89" stroke="#555" stroke-width="0.8"/>
<line x1="451.92" y1="68.21" x2="455.92" y2="68.21" stroke="#555" stroke-width="0.8"/>
<line x1="462.28" y1="55.63" x2="462.28" y2="68.95" stroke="#555" stroke-width="0.8"/>
<line x1="460.28" y1="55.63" x2="464.28" y2="55.63" stroke="#555" stroke-width="0.8"/>
<line x1="460.28" y1="68.95" x2="464.28" y2="68.95" stroke="#555" stroke-width="0.8"/>
<line x1="520.77" y1="142.95" x2="520.77" y2="157.75" stroke="#555" stroke-width="0.8"/>
<line x1="518.77" y1="142.95" x2="522.77" y2="142.95" stroke="#555" stroke-width="0.8"/>
<line x1="518.77" y1="157.75" x2="522.77" y2="157.75" stroke="#555" stroke-width="0.8"/>
<line x1="621.04" y1="185.5" x2="621.04" y2="204.74" stroke="#555" stroke-width="0.8"/>
<line x1="619.04" y1="185.5" x2="623.04" y2="185.5" stroke="#555" stroke-width="0.8"/>
<line x1="619.04" y1="204.74" x2="623.04" y2="204.74" stroke="#555" stroke-width="0.8"/>
<rect x="417.8" y="45.9" width="5.4" height="5.4" fill="#111"/>
<rect x="426.16" y="49.6" width="5.4" height="5.4" fill="#111"/>
<rect x="434.51" y="53.3" width="5.4" height="5.4" fill="#111"/>
<rect x="442.87" y="55.15" width="5.4" height="5.4" fill="#111"/>
<rect x="451.22" y="58.85" width="5.4" height="5.4" fill="#111"/>
<rect x="459.58" y="59.59" width="5.4" height="5.4" fill="#111"/>
<rect x="518.07" y="147.65" width="5.4" height="5.4" fill="#111"/>
<rect x="618.34" y="192.42" width="5.4" height="5.4" fill="#111"/>
<line x1="420.5" y1="41.2" x2="420.5" y2="56" stroke="#555" stroke-width="0.8"/>
<line x1="418.5" y1="41.2" x2="422.5" y2="41.2" stroke="#555" stroke-width="0.8"/>
<line x1="418.5" y1="56" x2="422.5" y2="56" stroke="#555" stroke-width="0.8"/>
<line x1="428.86" y1="46.38" x2="428.86" y2="59.7" stroke="#555" stroke-width="0.8"/>
<line x1="426.86" y1="46.38" x2="430.86" y2="46.38" stroke="#555" stroke-width="0.8"/>
<line x1="426.86" y1="59.7" x2="430.86" y2="59.7" stroke="#555" stroke-width="0.8"/>
<line x1="437.21" y1="51.19" x2="437.21" y2="64.51" stroke="#555" stroke-width="0.8"/>
<line x1="435.21" y1="51.19" x2="439.21" y2="51.19" stroke="#555" stroke-width="0.8"/>
<line x1="435.21" y1="64.51" x2="439.21" y2="64.51" stroke="#555" stroke-width="0.8"/>
<line x1="445.57" y1="53.04" x2="445.57" y2="66.36" stroke="#555" stroke-width="0.8"/>
<line x1="443.57" y1="53.04" x2="447.57" y2="53.04" stroke="#555" stroke-width="0.8"/>
<line x1="443.57" y1="66.36" x2="447.57" y2="66.36" stroke="#555" stroke-width="0.8"/>
<line x1="453.92" y1="73.39" x2="453.92" y2="86.71" stroke="#555" stroke-width="0.8"/>
<line x1="451.92" y1="73.39" x2="455.92" y2="73.39" stroke="#555" stroke-width="0.8"/>
<line x1="451.92" y1="86.71" x2="455.92" y2="86.71" stroke="#555" stroke-width="0.8"/>
<line x1="462.28" y1="95.59" x2="462.28" y2="108.91" stroke="#555" stroke-width="0.8"/>
<line x1="460.28" y1="95.59" x2="464.28" y2="95.59" stroke="#555" stroke-width="0.8"/>
<line x1="460.28" y1="108.91" x2="464.28" y2="108.91" stroke="#555" stroke-width="0.8"/>
<line x1="520.77" y1="141.84" x2="520.77" y2="156.64" stroke="#555" stroke-width="0.8"/>
<line x1="518.77" y1="141.84" x2="522.77" y2="141.84" stroke="#555" stroke-width="0.8"/>
<line x1="518.77" y1="156.64" x2="522.77" y2="156.64" stroke="#555" stroke-width="0.8"/>
<line x1="621.04" y1="172.18" x2="621.04" y2="191.42" stroke="#555" stroke-width="0.8"/>
<line x1="619.04" y1="172.18" x2="623.04" y2="172.18" stroke="#555" stroke-width="0.8"/>
<line x1="619.04" y1="191.42" x2="623.04" y2="191.42" stroke="#555" stroke-width="0.8"/>
<circle cx="420.5" cy="48.6" r="2.84" fill="#111"/>
<circle cx="428.86" cy="53.04" r="2.84" fill="#111"/>
<circle cx="437.21" cy="57.85" r="2.84" fill="#111"/>
<circle cx="445.57" cy="59.7" r="2.84" fill="#111"/>
<circle cx="453.92" cy="80.05" r="2.84" fill="#111"/>
<circle cx="462.28" cy="102.25" r="2.84" fill="#111"/>
<circle cx="520.77" cy="149.24" r="2.84" fill="#111"/>
<circle cx="621.04" cy="181.8" r="2.84" fill="#111"/>
<line x1="420.5" y1="41.2" x2="420.5" y2="56" stroke="#555" stroke-width="0.8"/>
<line x1="418.5" y1="41.2" x2="422.5" y2="41.2" stroke="#555" stroke-width="0.8"/>
<line x1="418.5" y1="56" x2="422.5" y2="56" stroke="#555" stroke-width="0.8"/>
<line x1="428.86" y1="47.49" x2="428.86" y2="60.81" stroke="#555" stroke-width="0.8"/>
<line x1="426.86" y1="47.49" x2="430.86" y2="47.49" stroke="#555" stroke-width="0.8"/>
<line x1="426.86" y1="60.81" x2="430.86" y2="60.81" stroke="#555" stroke-width="0.8"/>
<line x1="437.21" y1="53.04" x2="437.21" y2="66.36" stroke="#555" stroke-width="0.8"/>
<line x1="435.21" y1="53.04" x2="439.21" y2="53.04" stroke="#555" stroke-width="0.8"/>
<line x1="435.21" y1="66.36" x2="439.21" y2="66.36" stroke="#555" stroke-width="0.8"/>
<line x1="445.57" y1="54.89" x2="445.57" y2="68.21" stroke="#555" stroke-width="0.8"/>
<line x1="443.57" y1="54.89" x2="447.57" y2="54.89" stroke="#555" stroke-width="0.8"/>
<line x1="443.57" y1="68.21" x2="447.57" y2="68.21" stroke="#555" stroke-width="0.8"/>
<line x1="453.92" y1="62.29" x2="453.92" y2="75.61" stroke="#555" stroke-width="0.8"/>
<line x1="451.92" y1="62.29" x2="455.92" y2="62.29" stroke="#555" stroke-width="0.8"/>
<line x1="451.92" y1="75.61" x2="455.92" y2="75.61" stroke="#555" stroke-width="0.8"/>
<line x1="462.28" y1="93.74" x2="462.28" y2="107.06" stroke="#555" stroke-width="0.8"/>
<line x1="460.28" y1="93.74" x2="464.28" y2="93.74" stroke="#555" stroke-width="0.8"/>
<line x1="460.28" y1="107.06" x2="464.28" y2="107.06" stroke="#555" stroke-width="0.8"/>
<line x1="520.77" y1="140.36" x2="520.77" y2="155.16" stroke="#555" stroke-width="0.8"/>
<line x1="518.77" y1="140.36" x2="522.77" y2="140.36" stroke="#555" stroke-width="0.8"/>
<line x1="518.77" y1="155.16" x2="522.77" y2="155.16" stroke="#555" stroke-width="0.8"/>
<line x1="621.04" y1="177.73" x2="621.04" y2="196.97" stroke="#555" stroke-width="0.8"/>
<line x1="619.04" y1="177.73" x2="623.04" y2="177.73" stroke="#555" stroke-width="0.8"/>
<line x1="619.04" y1="196.97" x2="623.04" y2="196.97" stroke="#555" stroke-width="0.8"/>
<polygon points="420.5,45.23 417.12,51.13 423.88,51.13" fill="#111"/>
<polygon points="428.86,50.78 425.48,56.68 432.23,56.68" fill="#111"/>
<polygon points="437.21,56.33 433.84,62.23 440.59,62.23" fill="#111"/>
<polygon points="445.57,58.18 442.19,64.08 448.94,64.08" fill="#111"/>
<polygon points="453.92,65.58 450.55,71.48 457.3,71.48" fill="#111"/>
<polygon points="462.28,97.03 458.9,102.93 465.65,102.93" fill="#111"/>
<polygon points="520.77,144.38 517.4,150.29 524.15,150.29" fill="#111"/>
<polygon points="621.04,183.97 617.67,189.88 624.42,189.88" fill="#111"/>
<line x1="420.5" y1="41.2" x2="420.5" y2="56" stroke="#555" stroke-width="0.8"/>
<line x1="418.5" y1="41.2" x2="422.5" y2="41.2" stroke="#555" stroke-width="0.8"/>
<line x1="418.5" y1="56" x2="422.5" y2="56" stroke="#555" stroke-width="0.8"/>
<line x1="428.86" y1="45.64" x2="428.86" y2="58.96" stroke="#555" stroke-width="0.8"/>
<line x1="426.86" y1="45.64" x2="430.86" y2="45.64" stroke="#555" stroke-width="0.8"/>
<line x1="426.86" y1="58.96" x2="430.86" y2="58.96" stroke="#555" stroke-width="0.8"/>
<line x1="437.21" y1="54.89" x2="437.21" y2="68.21" stroke="#555" stroke-width="0.8"/>
<line x1="435.21" y1="54.89" x2="439.21" y2="54.89" stroke="#555" stroke-width="0.8"/>
<line x1="435.21" y1="68.21" x2="439.21" y2="68.21" stroke="#555" stroke-width="0.8"/>
<line x1="445.57" y1="58.59" x2="445.57" y2="71.91" stroke="#555" stroke-width="0.8"/>
<line x1="443.57" y1="58.59" x2="447.57" y2="58.59" stroke="#555" stroke-width="0.8"/>
<line x1="443.57" y1="71.91" x2="447.57" y2="71.91" stroke="#555" stroke-width="0.8"/>
<line x1="453.92" y1="73.39" x2="453.92" y2="86.71" stroke="#555" stroke-width="0.8"/>
<line x1="451.92" y1="73.39" x2="455.92" y2="73.39" stroke="#555" stroke-width="0.8"/>
<line x1="451.92" y1="86.71" x2="455.92" y2="86.71" stroke="#555" stroke-width="0.8"/>
<line x1="462.28" y1="97.44" x2="462.28" y2="110.76" stroke="#555" stroke-width="0.8"/>
<line x1="460.28" y1="97.44" x2="464.28" y2="97.44" stroke="#555" stroke-width="0.8"/>
<line x1="460.28" y1="110.76" x2="464.28" y2="110.76" stroke="#555" stroke-width="0.8"/>
<line x1="520.77" y1="142.95" x2="520.77" y2="157.75" stroke="#555" stroke-width="0.8"/>
<line x1="518.77" y1="142.95" x2="522.77" y2="142.95" stroke="#555" stroke-width="0.8"/>
<line x1="518.77" y1="157.75" x2="522.77" y2="157.75" stroke="#555" stroke-width="0.8"/>
<line x1="621.04" y1="174.77" x2="621.04" y2="194.01" stroke="#555" stroke-width="0.8"/>
<line x1="619.04" y1="174.77" x2="623.04" y2="174.77" stroke="#555" stroke-width="0.8"/>
<line x1="619.04" y1="194.01" x2="623.04" y2="194.01" stroke="#555" stroke-width="0.8"/>
<polygon points="420.5,51.98 417.12,46.07 423.88,46.07" fill="#111"/>
<polygon points="428.86,55.68 425.48,49.77 432.23,49.77" fill="#111"/>
<polygon points="437.21,64.93 433.84,59.02 440.59,59.02" fill="#111"/>
<polygon points="445.57,68.62 442.19,62.72 448.94,62.72" fill="#111"/>
<polygon points="453.92,83.43 450.55,77.52 457.3,77.52" fill="#111"/>
<polygon points="462.28,107.47 458.9,101.57 465.65,101.57" fill="#111"/>
<polygon points="520.77,153.72 517.4,147.82 524.15,147.82" fill="#111"/>
<polygon points="621.04,187.77 617.67,181.86 624.42,181.86" fill="#111"/>
<line x1="420.5" y1="41.2" x2="420.5" y2="56" stroke="#555" stroke-width="0.8"/>
<line x1="418.5" y1="41.2" x2="422.5" y2="41.2" stroke="#555" stroke-width="0.8"/>
<line x1="418.5" y1="56" x2="422.5" y2="56" stroke="#555" stroke-width="0.8"/>
<line x1="428.86" y1="47.49" x2="428.86" y2="60.81" stroke="#555" stroke-width="0.8"/>
<line x1="426.86" y1="47.49" x2="430.86" y2="47.49" stroke="#555" stroke-width="0.8"/>
<line x1="426.86" y1="60.81" x2="430.86" y2="60.81" stroke="#555" stroke-width="0.8"/>
<line x1="437.21" y1="62.29" x2="437.21" y2="75.61" stroke="#555" stroke-width="0.8"/>
<line x1="435.21" y1="62.29" x2="439.21" y2="62.29" stroke="#555" stroke-width="0.8"/>
<line x1="435.21" y1="75.61" x2="439.21" y2="75.61" stroke="#555" stroke-width="0.8"/>
<line x1="445.57" y1="81.53" x2="445.57" y2="94.85" stroke="#555" stroke-width="0.8"/>
<line x1="443.57" y1="81.53" x2="447.57" y2="81.53" stroke="#555" stroke-width="0.8"/>
<line x1="443.57" y1="94.85" x2="447.57" y2="94.85" stroke="#555" stroke-width="0.8"/>
<line x1="453.92" y1="110.76" x2="453.92" y2="124.08" stroke="#555" stroke-width="0.8"/>
<line x1="451.92" y1="110.76" x2="455.92" y2="110.76" stroke="#555" stroke-width="0.8"/>
<line x1="451.92" y1="124.08" x2="455.92" y2="124.08" stroke="#555" stroke-width="0.8"/>
<line x1="462.28" y1="129.26" x2="462.28" y2="142.58" stroke="#555" stroke-width="0.8"/>
<line x1="460.28" y1="129.26" x2="464.28" y2="129.26" stroke="#555" stroke-width="0.8"/>
<line x1="460.28" y1="142.58" x2="464.28" y2="142.58" stroke="#555" stroke-width="0.8"/>
<line x1="520.77" y1="144.8" x2="520.77" y2="159.6" stroke="#555" stroke-width="0.8"/>
<line x1="518.77" y1="144.8" x2="522.77" y2="144.8" stroke="#555" stroke-width="0.8"/>
<line x1="518.77" y1="159.6" x2="522.77" y2="159.6" stroke="#555" stroke-width="0.8"/>
<line x1="621.04" y1="171.44" x2="621.04" y2="190.68" stroke="#555" stroke-width="0.8"/>
<line x1="619.04" y1="171.44" x2="623.04" y2="171.44" stroke="#555" stroke-width="0.8"/>
<line x1="619.04" y1="190.68" x2="623.04" y2="190.68" stroke="#555" stroke-width="0.8"/>
<polygon points="420.5,45.09 424.01,48.6 420.5,52.11 416.99,48.6" fill="#111"/>
<polygon points="428.86,50.64 432.37,54.15 428.86,57.66 425.35,54.15" fill="#111"/>
<polygon points="437.21,65.44 440.72,68.95 437.21,72.46 433.7,68.95" fill="#111"/>
<polygon points="445.57,84.68 449.08,88.19 445.57,91.7 442.06,88.19" fill="#111"/>
<polygon points="453.92,113.91 457.43,117.42 453.92,120.93 450.41,117.42" fill="#111"/>
<polygon points="462.28,132.41 465.79,135.92 462.28,139.43 458.77,135.92" fill="#111"/>
<polygon points="520.77,148.69 524.28,152.2 520.77,155.71 517.26,152.2" fill="#111"/>
<polygon points="621.04,177.55 624.55,181.06 621.04,184.57 617.53,181.06" fill="#111"/>
<rect x="528.8" y="7.9" width="109.1" height="56.6" fill="#fff" stroke="#6a6a6a" stroke-width="1"/>
<line x1="544.5" y1="13.7" x2="564.7" y2="13.7" stroke="#333" stroke-width="0.9"/>
<rect x="552.6" y="11.6" width="4.2" height="4.2" fill="#111"/>
<text transform="translate(567.7 17.52) scale(0.8850 1)" font-size="10.28" text-anchor="start" font-family='"Liberation Serif", serif' font-weight="normal" fill="#111" stroke="#111" stroke-width="0.4">Soluble starch</text>
<line x1="544.5" y1="25" x2="564.7" y2="25" stroke="#333" stroke-width="0.9"/>
<circle cx="554.7" cy="25" r="2.21" fill="#111"/>
<text transform="translate(567.7 28.82) scale(0.8850 1)" font-size="10.28" text-anchor="start" font-family='"Liberation Serif", serif' font-weight="normal" fill="#111" stroke="#111" stroke-width="0.4">Agarose</text>
<line x1="544.5" y1="36.8" x2="564.7" y2="36.8" stroke="#333" stroke-width="0.9"/>
<polygon points="554.7,34.17 552.08,38.77 557.33,38.77" fill="#111"/>
<text transform="translate(567.7 40.62) scale(0.8850 1)" font-size="10.28" text-anchor="start" font-family='"Liberation Serif", serif' font-weight="normal" fill="#111" stroke="#111" stroke-width="0.4">Carrageen</text>
<line x1="544.5" y1="47.3" x2="564.7" y2="47.3" stroke="#333" stroke-width="0.9"/>
<polygon points="554.7,49.92 552.08,45.33 557.33,45.33" fill="#111"/>
<text transform="translate(567.7 51.12) scale(0.8850 1)" font-size="10.28" text-anchor="start" font-family='"Liberation Serif", serif' font-weight="normal" fill="#111" stroke="#111" stroke-width="0.4">Alginate</text>
<line x1="544.5" y1="59.2" x2="564.7" y2="59.2" stroke="#333" stroke-width="0.9"/>
<polygon points="554.7,56.47 557.43,59.2 554.7,61.93 551.97,59.2" fill="#111"/>
<text transform="translate(567.7 63.02) scale(0.8850 1)" font-size="10.28" text-anchor="start" font-family='"Liberation Serif", serif' font-weight="normal" fill="#111" stroke="#111" stroke-width="0.4">Sodium cellulose</text>
<text transform="translate(0.3 274) scale(1.0000 1)" font-size="15.5" text-anchor="start" font-family='"Liberation Sans", sans-serif' font-weight="bold" fill="#111" stroke="#111" stroke-width="0.45">c</text>
<path d="M39.1 292.5 V490.8 H305.9" fill="none" stroke="#333" stroke-width="1.6"/>
<line x1="39.1" y1="490.8" x2="42.9" y2="490.8" stroke="#333" stroke-width="1.2"/>
<text transform="translate(35 494.4) scale(0.9524 1)" font-size="11.03" text-anchor="end" font-family='"Liberation Serif", serif' font-weight="normal" fill="#111" stroke="#111" stroke-width="0.4">0</text>
<line x1="39.1" y1="454.8" x2="42.9" y2="454.8" stroke="#333" stroke-width="1.2"/>
<text transform="translate(35 458.4) scale(0.9524 1)" font-size="11.03" text-anchor="end" font-family='"Liberation Serif", serif' font-weight="normal" fill="#111" stroke="#111" stroke-width="0.4">20</text>
<line x1="39.1" y1="418.8" x2="42.9" y2="418.8" stroke="#333" stroke-width="1.2"/>
<text transform="translate(35 422.4) scale(0.9524 1)" font-size="11.03" text-anchor="end" font-family='"Liberation Serif", serif' font-weight="normal" fill="#111" stroke="#111" stroke-width="0.4">40</text>
<line x1="39.1" y1="382.8" x2="42.9" y2="382.8" stroke="#333" stroke-width="1.2"/>
<text transform="translate(35 386.4) scale(0.9524 1)" font-size="11.03" text-anchor="end" font-family='"Liberation Serif", serif' font-weight="normal" fill="#111" stroke="#111" stroke-width="0.4">60</text>
<line x1="39.1" y1="346.8" x2="42.9" y2="346.8" stroke="#333" stroke-width="1.2"/>
<text transform="translate(35 350.4) scale(0.9524 1)" font-size="11.03" text-anchor="end" font-family='"Liberation Serif", serif' font-weight="normal" fill="#111" stroke="#111" stroke-width="0.4">80</text>
<line x1="39.1" y1="310.8" x2="42.9" y2="310.8" stroke="#333" stroke-width="1.2"/>
<text transform="translate(35 314.4) scale(0.9524 1)" font-size="11.03" text-anchor="end" font-family='"Liberation Serif", serif' font-weight="normal" fill="#111" stroke="#111" stroke-width="0.4">100</text>
<line x1="39.1" y1="472.8" x2="41.1" y2="472.8" stroke="#333" stroke-width="1.2"/>
<line x1="39.1" y1="436.8" x2="41.1" y2="436.8" stroke="#333" stroke-width="1.2"/>
<line x1="39.1" y1="400.8" x2="41.1" y2="400.8" stroke="#333" stroke-width="1.2"/>
<line x1="39.1" y1="364.8" x2="41.1" y2="364.8" stroke="#333" stroke-width="1.2"/>
<line x1="39.1" y1="328.8" x2="41.1" y2="328.8" stroke="#333" stroke-width="1.2"/>
<line x1="39.1" y1="292.8" x2="41.1" y2="292.8" stroke="#333" stroke-width="1.2"/>
<line x1="57.2" y1="490.8" x2="57.2" y2="487" stroke="#333" stroke-width="1.2"/>
<text transform="translate(57.2 503.8) scale(1.0000 1)" font-size="10.6" text-anchor="middle" font-family='"Liberation Serif", serif' font-weight="normal" fill="#111" stroke="#111" stroke-width="0.4">4</text>
<line x1="92.73" y1="490.8" x2="92.73" y2="487" stroke="#333" stroke-width="1.2"/>
<text transform="translate(92.73 503.8) scale(1.0000 1)" font-size="10.6" text-anchor="middle" font-family='"Liberation Serif", serif' font-weight="normal" fill="#111" stroke="#111" stroke-width="0.4">5</text>
<line x1="128.26" y1="490.8" x2="128.26" y2="487" stroke="#333" stroke-width="1.2"/>
<text transform="translate(128.26 503.8) scale(1.0000 1)" font-size="10.6" text-anchor="middle" font-family='"Liberation Serif", serif' font-weight="normal" fill="#111" stroke="#111" stroke-width="0.4">6</text>
<line x1="163.79" y1="490.8" x2="163.79" y2="487" stroke="#333" stroke-width="1.2"/>
<text transform="translate(163.79 503.8) scale(1.0000 1)" font-size="10.6" text-anchor="middle" font-family='"Liberation Serif", serif' font-weight="normal" fill="#111" stroke="#111" stroke-width="0.4">7</text>
<line x1="199.32" y1="490.8" x2="199.32" y2="487" stroke="#333" stroke-width="1.2"/>
<text transform="translate(199.32 503.8) scale(1.0000 1)" font-size="10.6" text-anchor="middle" font-family='"Liberation Serif", serif' font-weight="normal" fill="#111" stroke="#111" stroke-width="0.4">8</text>
<line x1="234.85" y1="490.8" x2="234.85" y2="487" stroke="#333" stroke-width="1.2"/>
<text transform="translate(234.85 503.8) scale(1.0000 1)" font-size="10.6" text-anchor="middle" font-family='"Liberation Serif", serif' font-weight="normal" fill="#111" stroke="#111" stroke-width="0.4">9</text>
<line x1="270.38" y1="490.8" x2="270.38" y2="487" stroke="#333" stroke-width="1.2"/>
<text transform="translate(270.38 503.8) scale(1.0000 1)" font-size="10.6" text-anchor="middle" font-family='"Liberation Serif", serif' font-weight="normal" fill="#111" stroke="#111" stroke-width="0.4">10</text>
<line x1="305.91" y1="490.8" x2="305.91" y2="487" stroke="#333" stroke-width="1.2"/>
<text transform="translate(305.91 503.8) scale(1.0000 1)" font-size="10.6" text-anchor="middle" font-family='"Liberation Serif", serif' font-weight="normal" fill="#111" stroke="#111" stroke-width="0.4">11</text>
<line x1="74.97" y1="490.8" x2="74.97" y2="488.8" stroke="#333" stroke-width="1.2"/>
<line x1="110.5" y1="490.8" x2="110.5" y2="488.8" stroke="#333" stroke-width="1.2"/>
<line x1="146.03" y1="490.8" x2="146.03" y2="488.8" stroke="#333" stroke-width="1.2"/>
<line x1="181.56" y1="490.8" x2="181.56" y2="488.8" stroke="#333" stroke-width="1.2"/>
<line x1="217.08" y1="490.8" x2="217.08" y2="488.8" stroke="#333" stroke-width="1.2"/>
<line x1="252.62" y1="490.8" x2="252.62" y2="488.8" stroke="#333" stroke-width="1.2"/>
<line x1="288.14" y1="490.8" x2="288.14" y2="488.8" stroke="#333" stroke-width="1.2"/>
<text transform="translate(9.8 397.3) rotate(-90) scale(1 1)" font-size="11.4" text-anchor="middle" font-family='"Liberation Sans", sans-serif' font-weight="normal" fill="#111" stroke="#111" stroke-width="0.4">Relative activity (%)</text>
<text transform="translate(172.5 522.2) scale(0.8850 1)" font-size="12.43" text-anchor="middle" font-family='"Liberation Serif", serif' font-weight="normal" fill="#111" stroke="#111" stroke-width="0.4">pH</text>
<line x1="57.2" y1="486.84" x2="92.73" y2="390" stroke="#2b2b2b" stroke-width="0.9"/>
<line x1="92.73" y1="390" x2="128.26" y2="350.76" stroke="#2b2b2b" stroke-width="0.9"/>
<line x1="128.26" y1="350.76" x2="163.79" y2="348.24" stroke="#2b2b2b" stroke-width="0.9" stroke-dasharray="2,1.5"/>
<line x1="163.79" y1="348.24" x2="167.34" y2="353.46" stroke="#2b2b2b" stroke-width="0.9"/>
<line x1="167.34" y1="353.46" x2="199.32" y2="346.8" stroke="#2b2b2b" stroke-width="0.9"/>
<line x1="199.32" y1="346.8" x2="231.3" y2="335.1" stroke="#2b2b2b" stroke-width="0.9"/>
<line x1="231.3" y1="335.1" x2="234.85" y2="331.68" stroke="#2b2b2b" stroke-width="0.9"/>
<line x1="234.85" y1="331.68" x2="270.38" y2="310.8" stroke="#2b2b2b" stroke-width="0.9"/>
<line x1="270.38" y1="310.8" x2="291.7" y2="353.64" stroke="#2b2b2b" stroke-width="0.9"/>
<line x1="57.2" y1="472.62" x2="92.73" y2="398.1" stroke="#2b2b2b" stroke-width="0.9"/>
<line x1="92.73" y1="398.1" x2="128.26" y2="338.88" stroke="#2b2b2b" stroke-width="0.9"/>
<line x1="128.26" y1="338.88" x2="163.79" y2="335.1" stroke="#2b2b2b" stroke-width="0.9"/>
<line x1="163.79" y1="335.1" x2="167.34" y2="345.54" stroke="#2b2b2b" stroke-width="0.9"/>
<line x1="167.34" y1="345.54" x2="199.32" y2="332.76" stroke="#2b2b2b" stroke-width="0.9"/>
<line x1="199.32" y1="332.76" x2="231.3" y2="334.56" stroke="#2b2b2b" stroke-width="0.9" stroke-dasharray="2,1.5"/>
<line x1="231.3" y1="334.56" x2="234.85" y2="323.4" stroke="#2b2b2b" stroke-width="0.9"/>
<line x1="234.85" y1="323.4" x2="270.38" y2="310.8" stroke="#2b2b2b" stroke-width="0.9"/>
<line x1="270.38" y1="310.8" x2="291.7" y2="361.2" stroke="#2b2b2b" stroke-width="0.9"/>
<line x1="57.2" y1="460.2" x2="92.73" y2="456.24" stroke="#2b2b2b" stroke-width="0.9"/>
<line x1="92.73" y1="456.24" x2="128.26" y2="430.68" stroke="#2b2b2b" stroke-width="0.9"/>
<line x1="128.26" y1="430.68" x2="163.79" y2="425.82" stroke="#2b2b2b" stroke-width="0.9"/>
<line x1="163.79" y1="425.82" x2="167.34" y2="425.46" stroke="#2b2b2b" stroke-width="0.9"/>
<line x1="167.34" y1="425.46" x2="199.32" y2="399" stroke="#2b2b2b" stroke-width="0.9"/>
<line x1="199.32" y1="399" x2="231.3" y2="329.34" stroke="#2b2b2b" stroke-width="0.9"/>
<line x1="231.3" y1="329.34" x2="234.85" y2="323.4" stroke="#2b2b2b" stroke-width="0.9"/>
<line x1="234.85" y1="323.4" x2="270.38" y2="310.8" stroke="#2b2b2b" stroke-width="0.9"/>
<line x1="270.38" y1="310.8" x2="291.7" y2="323.04" stroke="#2b2b2b" stroke-width="0.9"/>
<line x1="57.2" y1="479.46" x2="92.73" y2="466.86" stroke="#2b2b2b" stroke-width="0.9"/>
<line x1="92.73" y1="466.86" x2="128.26" y2="431.4" stroke="#2b2b2b" stroke-width="0.9"/>
<line x1="128.26" y1="431.4" x2="163.79" y2="404.58" stroke="#2b2b2b" stroke-width="0.9"/>
<line x1="163.79" y1="404.58" x2="167.34" y2="416.46" stroke="#2b2b2b" stroke-width="0.9"/>
<line x1="167.34" y1="416.46" x2="199.32" y2="387.48" stroke="#2b2b2b" stroke-width="0.9"/>
<line x1="199.32" y1="387.48" x2="231.3" y2="327" stroke="#2b2b2b" stroke-width="0.9"/>
<line x1="231.3" y1="327" x2="234.85" y2="327.36" stroke="#2b2b2b" stroke-width="0.9"/>
<line x1="234.85" y1="327.36" x2="270.38" y2="310.8" stroke="#2b2b2b" stroke-width="0.9"/>
<line x1="270.38" y1="310.8" x2="291.7" y2="342.12" stroke="#2b2b2b" stroke-width="0.9"/>
<line x1="57.2" y1="463.8" x2="92.73" y2="456.6" stroke="#2b2b2b" stroke-width="0.9"/>
<line x1="92.73" y1="456.6" x2="128.26" y2="435.9" stroke="#2b2b2b" stroke-width="0.9"/>
<line x1="128.26" y1="435.9" x2="163.79" y2="431.22" stroke="#2b2b2b" stroke-width="0.9"/>
<line x1="163.79" y1="431.22" x2="167.34" y2="433.38" stroke="#2b2b2b" stroke-width="0.9"/>
<line x1="167.34" y1="433.38" x2="199.32" y2="416.46" stroke="#2b2b2b" stroke-width="0.9"/>
<line x1="199.32" y1="416.46" x2="231.3" y2="321.6" stroke="#2b2b2b" stroke-width="0.9"/>
<line x1="231.3" y1="321.6" x2="234.85" y2="318.36" stroke="#2b2b2b" stroke-width="0.9"/>
<line x1="234.85" y1="318.36" x2="270.38" y2="310.8" stroke="#2b2b2b" stroke-width="0.9"/>
<line x1="270.38" y1="310.8" x2="291.7" y2="324.66" stroke="#2b2b2b" stroke-width="0.9"/>
<line x1="57.2" y1="482.16" x2="57.2" y2="491.52" stroke="#555" stroke-width="0.8"/>
<line x1="55.2" y1="482.16" x2="59.2" y2="482.16" stroke="#555" stroke-width="0.8"/>
<line x1="55.2" y1="491.52" x2="59.2" y2="491.52" stroke="#555" stroke-width="0.8"/>
<line x1="92.73" y1="385.32" x2="92.73" y2="394.68" stroke="#555" stroke-width="0.8"/>
<line x1="90.73" y1="385.32" x2="94.73" y2="385.32" stroke="#555" stroke-width="0.8"/>
<line x1="90.73" y1="394.68" x2="94.73" y2="394.68" stroke="#555" stroke-width="0.8"/>
<line x1="128.26" y1="346.08" x2="128.26" y2="355.44" stroke="#555" stroke-width="0.8"/>
<line x1="126.26" y1="346.08" x2="130.26" y2="346.08" stroke="#555" stroke-width="0.8"/>
<line x1="126.26" y1="355.44" x2="130.26" y2="355.44" stroke="#555" stroke-width="0.8"/>
<line x1="163.79" y1="343.56" x2="163.79" y2="352.92" stroke="#555" stroke-width="0.8"/>
<line x1="161.79" y1="343.56" x2="165.79" y2="343.56" stroke="#555" stroke-width="0.8"/>
<line x1="161.79" y1="352.92" x2="165.79" y2="352.92" stroke="#555" stroke-width="0.8"/>
<line x1="167.34" y1="348.78" x2="167.34" y2="358.14" stroke="#555" stroke-width="0.8"/>
<line x1="165.34" y1="348.78" x2="169.34" y2="348.78" stroke="#555" stroke-width="0.8"/>
<line x1="165.34" y1="358.14" x2="169.34" y2="358.14" stroke="#555" stroke-width="0.8"/>
<line x1="199.32" y1="342.12" x2="199.32" y2="351.48" stroke="#555" stroke-width="0.8"/>
<line x1="197.32" y1="342.12" x2="201.32" y2="342.12" stroke="#555" stroke-width="0.8"/>
<line x1="197.32" y1="351.48" x2="201.32" y2="351.48" stroke="#555" stroke-width="0.8"/>
<line x1="231.3" y1="330.42" x2="231.3" y2="339.78" stroke="#555" stroke-width="0.8"/>
<line x1="229.3" y1="330.42" x2="233.3" y2="330.42" stroke="#555" stroke-width="0.8"/>
<line x1="229.3" y1="339.78" x2="233.3" y2="339.78" stroke="#555" stroke-width="0.8"/>
<line x1="234.85" y1="327" x2="234.85" y2="336.36" stroke="#555" stroke-width="0.8"/>
<line x1="232.85" y1="327" x2="236.85" y2="327" stroke="#555" stroke-width="0.8"/>
<line x1="232.85" y1="336.36" x2="236.85" y2="336.36" stroke="#555" stroke-width="0.8"/>
<line x1="270.38" y1="306.12" x2="270.38" y2="315.48" stroke="#555" stroke-width="0.8"/>
<line x1="268.38" y1="306.12" x2="272.38" y2="306.12" stroke="#555" stroke-width="0.8"/>
<line x1="268.38" y1="315.48" x2="272.38" y2="315.48" stroke="#555" stroke-width="0.8"/>
<line x1="291.7" y1="348.96" x2="291.7" y2="358.32" stroke="#555" stroke-width="0.8"/>
<line x1="289.7" y1="348.96" x2="293.7" y2="348.96" stroke="#555" stroke-width="0.8"/>
<line x1="289.7" y1="358.32" x2="293.7" y2="358.32" stroke="#555" stroke-width="0.8"/>
<rect x="54.45" y="484.09" width="5.5" height="5.5" fill="#111"/>
<rect x="89.98" y="387.25" width="5.5" height="5.5" fill="#111"/>
<rect x="125.51" y="348.01" width="5.5" height="5.5" fill="#111"/>
<rect x="161.04" y="345.49" width="5.5" height="5.5" fill="#111"/>
<rect x="164.59" y="350.71" width="5.5" height="5.5" fill="#111"/>
<rect x="196.57" y="344.05" width="5.5" height="5.5" fill="#111"/>
<rect x="228.55" y="332.35" width="5.5" height="5.5" fill="#111"/>
<rect x="232.1" y="328.93" width="5.5" height="5.5" fill="#111"/>
<rect x="267.63" y="308.05" width="5.5" height="5.5" fill="#111"/>
<rect x="288.95" y="350.89" width="5.5" height="5.5" fill="#111"/>
<line x1="57.2" y1="467.94" x2="57.2" y2="477.3" stroke="#555" stroke-width="0.8"/>
<line x1="55.2" y1="467.94" x2="59.2" y2="467.94" stroke="#555" stroke-width="0.8"/>
<line x1="55.2" y1="477.3" x2="59.2" y2="477.3" stroke="#555" stroke-width="0.8"/>
<line x1="92.73" y1="393.42" x2="92.73" y2="402.78" stroke="#555" stroke-width="0.8"/>
<line x1="90.73" y1="393.42" x2="94.73" y2="393.42" stroke="#555" stroke-width="0.8"/>
<line x1="90.73" y1="402.78" x2="94.73" y2="402.78" stroke="#555" stroke-width="0.8"/>
<line x1="128.26" y1="334.2" x2="128.26" y2="343.56" stroke="#555" stroke-width="0.8"/>
<line x1="126.26" y1="334.2" x2="130.26" y2="334.2" stroke="#555" stroke-width="0.8"/>
<line x1="126.26" y1="343.56" x2="130.26" y2="343.56" stroke="#555" stroke-width="0.8"/>
<line x1="163.79" y1="330.42" x2="163.79" y2="339.78" stroke="#555" stroke-width="0.8"/>
<line x1="161.79" y1="330.42" x2="165.79" y2="330.42" stroke="#555" stroke-width="0.8"/>
<line x1="161.79" y1="339.78" x2="165.79" y2="339.78" stroke="#555" stroke-width="0.8"/>
<line x1="167.34" y1="340.86" x2="167.34" y2="350.22" stroke="#555" stroke-width="0.8"/>
<line x1="165.34" y1="340.86" x2="169.34" y2="340.86" stroke="#555" stroke-width="0.8"/>
<line x1="165.34" y1="350.22" x2="169.34" y2="350.22" stroke="#555" stroke-width="0.8"/>
<line x1="199.32" y1="328.08" x2="199.32" y2="337.44" stroke="#555" stroke-width="0.8"/>
<line x1="197.32" y1="328.08" x2="201.32" y2="328.08" stroke="#555" stroke-width="0.8"/>
<line x1="197.32" y1="337.44" x2="201.32" y2="337.44" stroke="#555" stroke-width="0.8"/>
<line x1="231.3" y1="329.88" x2="231.3" y2="339.24" stroke="#555" stroke-width="0.8"/>
<line x1="229.3" y1="329.88" x2="233.3" y2="329.88" stroke="#555" stroke-width="0.8"/>
<line x1="229.3" y1="339.24" x2="233.3" y2="339.24" stroke="#555" stroke-width="0.8"/>
<line x1="234.85" y1="318.72" x2="234.85" y2="328.08" stroke="#555" stroke-width="0.8"/>
<line x1="232.85" y1="318.72" x2="236.85" y2="318.72" stroke="#555" stroke-width="0.8"/>
<line x1="232.85" y1="328.08" x2="236.85" y2="328.08" stroke="#555" stroke-width="0.8"/>
<line x1="270.38" y1="306.12" x2="270.38" y2="315.48" stroke="#555" stroke-width="0.8"/>
<line x1="268.38" y1="306.12" x2="272.38" y2="306.12" stroke="#555" stroke-width="0.8"/>
<line x1="268.38" y1="315.48" x2="272.38" y2="315.48" stroke="#555" stroke-width="0.8"/>
<line x1="291.7" y1="356.52" x2="291.7" y2="365.88" stroke="#555" stroke-width="0.8"/>
<line x1="289.7" y1="356.52" x2="293.7" y2="356.52" stroke="#555" stroke-width="0.8"/>
<line x1="289.7" y1="365.88" x2="293.7" y2="365.88" stroke="#555" stroke-width="0.8"/>
<circle cx="57.2" cy="472.62" r="2.89" fill="#111"/>
<circle cx="92.73" cy="398.1" r="2.89" fill="#111"/>
<circle cx="128.26" cy="338.88" r="2.89" fill="#111"/>
<circle cx="163.79" cy="335.1" r="2.89" fill="#111"/>
<circle cx="167.34" cy="345.54" r="2.89" fill="#111"/>
<circle cx="199.32" cy="332.76" r="2.89" fill="#111"/>
<circle cx="231.3" cy="334.56" r="2.89" fill="#111"/>
<circle cx="234.85" cy="323.4" r="2.89" fill="#111"/>
<circle cx="270.38" cy="310.8" r="2.89" fill="#111"/>
<circle cx="291.7" cy="361.2" r="2.89" fill="#111"/>
<line x1="57.2" y1="455.52" x2="57.2" y2="464.88" stroke="#555" stroke-width="0.8"/>
<line x1="55.2" y1="455.52" x2="59.2" y2="455.52" stroke="#555" stroke-width="0.8"/>
<line x1="55.2" y1="464.88" x2="59.2" y2="464.88" stroke="#555" stroke-width="0.8"/>
<line x1="92.73" y1="451.56" x2="92.73" y2="460.92" stroke="#555" stroke-width="0.8"/>
<line x1="90.73" y1="451.56" x2="94.73" y2="451.56" stroke="#555" stroke-width="0.8"/>
<line x1="90.73" y1="460.92" x2="94.73" y2="460.92" stroke="#555" stroke-width="0.8"/>
<line x1="128.26" y1="426" x2="128.26" y2="435.36" stroke="#555" stroke-width="0.8"/>
<line x1="126.26" y1="426" x2="130.26" y2="426" stroke="#555" stroke-width="0.8"/>
<line x1="126.26" y1="435.36" x2="130.26" y2="435.36" stroke="#555" stroke-width="0.8"/>
<line x1="163.79" y1="421.14" x2="163.79" y2="430.5" stroke="#555" stroke-width="0.8"/>
<line x1="161.79" y1="421.14" x2="165.79" y2="421.14" stroke="#555" stroke-width="0.8"/>
<line x1="161.79" y1="430.5" x2="165.79" y2="430.5" stroke="#555" stroke-width="0.8"/>
<line x1="167.34" y1="420.78" x2="167.34" y2="430.14" stroke="#555" stroke-width="0.8"/>
<line x1="165.34" y1="420.78" x2="169.34" y2="420.78" stroke="#555" stroke-width="0.8"/>
<line x1="165.34" y1="430.14" x2="169.34" y2="430.14" stroke="#555" stroke-width="0.8"/>
<line x1="199.32" y1="394.32" x2="199.32" y2="403.68" stroke="#555" stroke-width="0.8"/>
<line x1="197.32" y1="394.32" x2="201.32" y2="394.32" stroke="#555" stroke-width="0.8"/>
<line x1="197.32" y1="403.68" x2="201.32" y2="403.68" stroke="#555" stroke-width="0.8"/>
<line x1="231.3" y1="324.66" x2="231.3" y2="334.02" stroke="#555" stroke-width="0.8"/>
<line x1="229.3" y1="324.66" x2="233.3" y2="324.66" stroke="#555" stroke-width="0.8"/>
<line x1="229.3" y1="334.02" x2="233.3" y2="334.02" stroke="#555" stroke-width="0.8"/>
<line x1="234.85" y1="318.72" x2="234.85" y2="328.08" stroke="#555" stroke-width="0.8"/>
<line x1="232.85" y1="318.72" x2="236.85" y2="318.72" stroke="#555" stroke-width="0.8"/>
<line x1="232.85" y1="328.08" x2="236.85" y2="328.08" stroke="#555" stroke-width="0.8"/>
<line x1="270.38" y1="306.12" x2="270.38" y2="315.48" stroke="#555" stroke-width="0.8"/>
<line x1="268.38" y1="306.12" x2="272.38" y2="306.12" stroke="#555" stroke-width="0.8"/>
<line x1="268.38" y1="315.48" x2="272.38" y2="315.48" stroke="#555" stroke-width="0.8"/>
<line x1="291.7" y1="318.36" x2="291.7" y2="327.72" stroke="#555" stroke-width="0.8"/>
<line x1="289.7" y1="318.36" x2="293.7" y2="318.36" stroke="#555" stroke-width="0.8"/>
<line x1="289.7" y1="327.72" x2="293.7" y2="327.72" stroke="#555" stroke-width="0.8"/>
<polygon points="57.2,456.76 53.76,462.78 60.64,462.78" fill="#111"/>
<polygon points="92.73,452.8 89.29,458.82 96.17,458.82" fill="#111"/>
<polygon points="128.26,427.24 124.82,433.26 131.7,433.26" fill="#111"/>
<polygon points="163.79,422.38 160.35,428.4 167.23,428.4" fill="#111"/>
<polygon points="167.34,422.02 163.91,428.04 170.78,428.04" fill="#111"/>
<polygon points="199.32,395.56 195.88,401.58 202.76,401.58" fill="#111"/>
<polygon points="231.3,325.9 227.86,331.92 234.73,331.92" fill="#111"/>
<polygon points="234.85,319.96 231.41,325.98 238.29,325.98" fill="#111"/>
<polygon points="270.38,307.36 266.94,313.38 273.82,313.38" fill="#111"/>
<polygon points="291.7,319.6 288.26,325.62 295.14,325.62" fill="#111"/>
<line x1="57.2" y1="474.78" x2="57.2" y2="484.14" stroke="#555" stroke-width="0.8"/>
<line x1="55.2" y1="474.78" x2="59.2" y2="474.78" stroke="#555" stroke-width="0.8"/>
<line x1="55.2" y1="484.14" x2="59.2" y2="484.14" stroke="#555" stroke-width="0.8"/>
<line x1="92.73" y1="462.18" x2="92.73" y2="471.54" stroke="#555" stroke-width="0.8"/>
<line x1="90.73" y1="462.18" x2="94.73" y2="462.18" stroke="#555" stroke-width="0.8"/>
<line x1="90.73" y1="471.54" x2="94.73" y2="471.54" stroke="#555" stroke-width="0.8"/>
<line x1="128.26" y1="426.72" x2="128.26" y2="436.08" stroke="#555" stroke-width="0.8"/>
<line x1="126.26" y1="426.72" x2="130.26" y2="426.72" stroke="#555" stroke-width="0.8"/>
<line x1="126.26" y1="436.08" x2="130.26" y2="436.08" stroke="#555" stroke-width="0.8"/>
<line x1="163.79" y1="399.9" x2="163.79" y2="409.26" stroke="#555" stroke-width="0.8"/>
<line x1="161.79" y1="399.9" x2="165.79" y2="399.9" stroke="#555" stroke-width="0.8"/>
<line x1="161.79" y1="409.26" x2="165.79" y2="409.26" stroke="#555" stroke-width="0.8"/>
<line x1="167.34" y1="411.78" x2="167.34" y2="421.14" stroke="#555" stroke-width="0.8"/>
<line x1="165.34" y1="411.78" x2="169.34" y2="411.78" stroke="#555" stroke-width="0.8"/>
<line x1="165.34" y1="421.14" x2="169.34" y2="421.14" stroke="#555" stroke-width="0.8"/>
<line x1="199.32" y1="382.8" x2="199.32" y2="392.16" stroke="#555" stroke-width="0.8"/>
<line x1="197.32" y1="382.8" x2="201.32" y2="382.8" stroke="#555" stroke-width="0.8"/>
<line x1="197.32" y1="392.16" x2="201.32" y2="392.16" stroke="#555" stroke-width="0.8"/>
<line x1="231.3" y1="322.32" x2="231.3" y2="331.68" stroke="#555" stroke-width="0.8"/>
<line x1="229.3" y1="322.32" x2="233.3" y2="322.32" stroke="#555" stroke-width="0.8"/>
<line x1="229.3" y1="331.68" x2="233.3" y2="331.68" stroke="#555" stroke-width="0.8"/>
<line x1="234.85" y1="322.68" x2="234.85" y2="332.04" stroke="#555" stroke-width="0.8"/>
<line x1="232.85" y1="322.68" x2="236.85" y2="322.68" stroke="#555" stroke-width="0.8"/>
<line x1="232.85" y1="332.04" x2="236.85" y2="332.04" stroke="#555" stroke-width="0.8"/>
<line x1="270.38" y1="306.12" x2="270.38" y2="315.48" stroke="#555" stroke-width="0.8"/>
<line x1="268.38" y1="306.12" x2="272.38" y2="306.12" stroke="#555" stroke-width="0.8"/>
<line x1="268.38" y1="315.48" x2="272.38" y2="315.48" stroke="#555" stroke-width="0.8"/>
<line x1="291.7" y1="337.44" x2="291.7" y2="346.8" stroke="#555" stroke-width="0.8"/>
<line x1="289.7" y1="337.44" x2="293.7" y2="337.44" stroke="#555" stroke-width="0.8"/>
<line x1="289.7" y1="346.8" x2="293.7" y2="346.8" stroke="#555" stroke-width="0.8"/>
<polygon points="57.2,482.9 53.76,476.88 60.64,476.88" fill="#111"/>
<polygon points="92.73,470.3 89.29,464.28 96.17,464.28" fill="#111"/>
<polygon points="128.26,434.84 124.82,428.82 131.7,428.82" fill="#111"/>
<polygon points="163.79,408.02 160.35,402 167.23,402" fill="#111"/>
<polygon points="167.34,419.9 163.91,413.88 170.78,413.88" fill="#111"/>
<polygon points="199.32,390.92 195.88,384.9 202.76,384.9" fill="#111"/>
<polygon points="231.3,330.44 227.86,324.42 234.73,324.42" fill="#111"/>
<polygon points="234.85,330.8 231.41,324.78 238.29,324.78" fill="#111"/>
<polygon points="270.38,314.24 266.94,308.22 273.82,308.22" fill="#111"/>
<polygon points="291.7,345.56 288.26,339.54 295.14,339.54" fill="#111"/>
<line x1="57.2" y1="459.12" x2="57.2" y2="468.48" stroke="#555" stroke-width="0.8"/>
<line x1="55.2" y1="459.12" x2="59.2" y2="459.12" stroke="#555" stroke-width="0.8"/>
<line x1="55.2" y1="468.48" x2="59.2" y2="468.48" stroke="#555" stroke-width="0.8"/>
<line x1="92.73" y1="451.92" x2="92.73" y2="461.28" stroke="#555" stroke-width="0.8"/>
<line x1="90.73" y1="451.92" x2="94.73" y2="451.92" stroke="#555" stroke-width="0.8"/>
<line x1="90.73" y1="461.28" x2="94.73" y2="461.28" stroke="#555" stroke-width="0.8"/>
<line x1="128.26" y1="431.22" x2="128.26" y2="440.58" stroke="#555" stroke-width="0.8"/>
<line x1="126.26" y1="431.22" x2="130.26" y2="431.22" stroke="#555" stroke-width="0.8"/>
<line x1="126.26" y1="440.58" x2="130.26" y2="440.58" stroke="#555" stroke-width="0.8"/>
<line x1="163.79" y1="426.54" x2="163.79" y2="435.9" stroke="#555" stroke-width="0.8"/>
<line x1="161.79" y1="426.54" x2="165.79" y2="426.54" stroke="#555" stroke-width="0.8"/>
<line x1="161.79" y1="435.9" x2="165.79" y2="435.9" stroke="#555" stroke-width="0.8"/>
<line x1="167.34" y1="428.7" x2="167.34" y2="438.06" stroke="#555" stroke-width="0.8"/>
<line x1="165.34" y1="428.7" x2="169.34" y2="428.7" stroke="#555" stroke-width="0.8"/>
<line x1="165.34" y1="438.06" x2="169.34" y2="438.06" stroke="#555" stroke-width="0.8"/>
<line x1="199.32" y1="411.78" x2="199.32" y2="421.14" stroke="#555" stroke-width="0.8"/>
<line x1="197.32" y1="411.78" x2="201.32" y2="411.78" stroke="#555" stroke-width="0.8"/>
<line x1="197.32" y1="421.14" x2="201.32" y2="421.14" stroke="#555" stroke-width="0.8"/>
<line x1="231.3" y1="316.92" x2="231.3" y2="326.28" stroke="#555" stroke-width="0.8"/>
<line x1="229.3" y1="316.92" x2="233.3" y2="316.92" stroke="#555" stroke-width="0.8"/>
<line x1="229.3" y1="326.28" x2="233.3" y2="326.28" stroke="#555" stroke-width="0.8"/>
<line x1="234.85" y1="313.68" x2="234.85" y2="323.04" stroke="#555" stroke-width="0.8"/>
<line x1="232.85" y1="313.68" x2="236.85" y2="313.68" stroke="#555" stroke-width="0.8"/>
<line x1="232.85" y1="323.04" x2="236.85" y2="323.04" stroke="#555" stroke-width="0.8"/>
<line x1="270.38" y1="306.12" x2="270.38" y2="315.48" stroke="#555" stroke-width="0.8"/>
<line x1="268.38" y1="306.12" x2="272.38" y2="306.12" stroke="#555" stroke-width="0.8"/>
<line x1="268.38" y1="315.48" x2="272.38" y2="315.48" stroke="#555" stroke-width="0.8"/>
<line x1="291.7" y1="319.98" x2="291.7" y2="329.34" stroke="#555" stroke-width="0.8"/>
<line x1="289.7" y1="319.98" x2="293.7" y2="319.98" stroke="#555" stroke-width="0.8"/>
<line x1="289.7" y1="329.34" x2="293.7" y2="329.34" stroke="#555" stroke-width="0.8"/>
<polygon points="57.2,460.23 60.78,463.8 57.2,467.38 53.62,463.8" fill="#111"/>
<polygon points="92.73,453.03 96.31,456.6 92.73,460.18 89.16,456.6" fill="#111"/>
<polygon points="128.26,432.33 131.83,435.9 128.26,439.48 124.68,435.9" fill="#111"/>
<polygon points="163.79,427.65 167.37,431.22 163.79,434.8 160.22,431.22" fill="#111"/>
<polygon points="167.34,429.81 170.92,433.38 167.34,436.95 163.77,433.38" fill="#111"/>
<polygon points="199.32,412.89 202.89,416.46 199.32,420.04 195.75,416.46" fill="#111"/>
<polygon points="231.3,318.03 234.87,321.6 231.3,325.18 227.72,321.6" fill="#111"/>
<polygon points="234.85,314.79 238.43,318.36 234.85,321.94 231.28,318.36" fill="#111"/>
<polygon points="270.38,307.23 273.95,310.8 270.38,314.38 266.81,310.8" fill="#111"/>
<polygon points="291.7,321.09 295.27,324.66 291.7,328.24 288.12,324.66" fill="#111"/>
<rect x="205.8" y="425" width="89.6" height="56.2" fill="#fff" stroke="#6a6a6a" stroke-width="1"/>
<line x1="212.3" y1="434.8" x2="231.1" y2="434.8" stroke="#333" stroke-width="0.9"/>
<rect x="219.9" y="432.7" width="4.2" height="4.2" fill="#111"/>
<text transform="translate(233.5 438.37) scale(0.8850 1)" font-size="9.6" text-anchor="start" font-family='"Liberation Serif", serif' font-weight="normal" fill="#111" stroke="#111" stroke-width="0.4">Soluble starch</text>
<line x1="212.3" y1="445" x2="231.1" y2="445" stroke="#333" stroke-width="0.9"/>
<circle cx="222" cy="445" r="2.21" fill="#111"/>
<text transform="translate(233.5 448.57) scale(0.8850 1)" font-size="9.6" text-anchor="start" font-family='"Liberation Serif", serif' font-weight="normal" fill="#111" stroke="#111" stroke-width="0.4">Agarose</text>
<line x1="212.3" y1="455.5" x2="231.1" y2="455.5" stroke="#333" stroke-width="0.9"/>
<polygon points="222,452.88 219.38,457.47 224.62,457.47" fill="#111"/>
<text transform="translate(233.5 459.07) scale(0.8850 1)" font-size="9.6" text-anchor="start" font-family='"Liberation Serif", serif' font-weight="normal" fill="#111" stroke="#111" stroke-width="0.4">Carrageen</text>
<line x1="212.3" y1="466.1" x2="231.1" y2="466.1" stroke="#333" stroke-width="0.9"/>
<polygon points="222,468.73 219.38,464.13 224.62,464.13" fill="#111"/>
<text transform="translate(233.5 469.67) scale(0.8850 1)" font-size="9.6" text-anchor="start" font-family='"Liberation Serif", serif' font-weight="normal" fill="#111" stroke="#111" stroke-width="0.4">Alginate</text>
<line x1="212.3" y1="476.2" x2="231.1" y2="476.2" stroke="#333" stroke-width="0.9"/>
<polygon points="222,473.47 224.73,476.2 222,478.93 219.27,476.2" fill="#111"/>
<text transform="translate(233.5 479.77) scale(0.8850 1)" font-size="9.6" text-anchor="start" font-family='"Liberation Serif", serif' font-weight="normal" fill="#111" stroke="#111" stroke-width="0.4">Sodium cellulose</text>
<text transform="translate(350.7 274) scale(1.0000 1)" font-size="15.5" text-anchor="start" font-family='"Liberation Sans", sans-serif' font-weight="bold" fill="#111" stroke="#111" stroke-width="0.45">d</text>
<rect x="394" y="347.6" width="3.48" height="141.4" fill="url(#p0)" stroke="#222" stroke-width="0.7"/>
<rect x="397.48" y="347.6" width="3.48" height="141.4" fill="url(#p1)" stroke="#222" stroke-width="0.7"/>
<rect x="400.96" y="347.6" width="3.48" height="141.4" fill="url(#p2)" stroke="#222" stroke-width="0.7"/>
<rect x="404.44" y="347.6" width="3.48" height="141.4" fill="url(#p3)" stroke="#222" stroke-width="0.7"/>
<rect x="407.92" y="347.6" width="3.48" height="141.4" fill="url(#p4)" stroke="#222" stroke-width="0.7"/>
<line x1="395.74" y1="343.92" x2="395.74" y2="347.6" stroke="#444" stroke-width="0.8"/>
<line x1="394.14" y1="343.92" x2="397.34" y2="343.92" stroke="#444" stroke-width="0.8"/>
<line x1="394.14" y1="347.6" x2="397.34" y2="347.6" stroke="#444" stroke-width="0.8"/>
<line x1="399.22" y1="343.92" x2="399.22" y2="347.6" stroke="#444" stroke-width="0.8"/>
<line x1="397.62" y1="343.92" x2="400.82" y2="343.92" stroke="#444" stroke-width="0.8"/>
<line x1="397.62" y1="347.6" x2="400.82" y2="347.6" stroke="#444" stroke-width="0.8"/>
<line x1="402.7" y1="343.92" x2="402.7" y2="347.6" stroke="#444" stroke-width="0.8"/>
<line x1="401.1" y1="343.92" x2="404.3" y2="343.92" stroke="#444" stroke-width="0.8"/>
<line x1="401.1" y1="347.6" x2="404.3" y2="347.6" stroke="#444" stroke-width="0.8"/>
<line x1="406.18" y1="343.92" x2="406.18" y2="347.6" stroke="#444" stroke-width="0.8"/>
<line x1="404.58" y1="343.92" x2="407.78" y2="343.92" stroke="#444" stroke-width="0.8"/>
<line x1="404.58" y1="347.6" x2="407.78" y2="347.6" stroke="#444" stroke-width="0.8"/>
<line x1="409.66" y1="343.92" x2="409.66" y2="347.6" stroke="#444" stroke-width="0.8"/>
<line x1="408.06" y1="343.92" x2="411.26" y2="343.92" stroke="#444" stroke-width="0.8"/>
<line x1="408.06" y1="347.6" x2="411.26" y2="347.6" stroke="#444" stroke-width="0.8"/>
<rect x="414.52" y="355.24" width="3.48" height="133.76" fill="url(#p0)" stroke="#222" stroke-width="0.7"/>
<rect x="418" y="395.96" width="3.48" height="93.04" fill="url(#p1)" stroke="#222" stroke-width="0.7"/>
<rect x="421.48" y="418.3" width="3.48" height="70.7" fill="url(#p2)" stroke="#222" stroke-width="0.7"/>
<rect x="424.96" y="382.95" width="3.48" height="106.05" fill="url(#p3)" stroke="#222" stroke-width="0.7"/>
<rect x="428.44" y="381.54" width="3.48" height="107.46" fill="url(#p4)" stroke="#222" stroke-width="0.7"/>
<line x1="416.26" y1="351.56" x2="416.26" y2="355.24" stroke="#444" stroke-width="0.8"/>
<line x1="414.66" y1="351.56" x2="417.86" y2="351.56" stroke="#444" stroke-width="0.8"/>
<line x1="414.66" y1="355.24" x2="417.86" y2="355.24" stroke="#444" stroke-width="0.8"/>
<line x1="419.74" y1="392.28" x2="419.74" y2="395.96" stroke="#444" stroke-width="0.8"/>
<line x1="418.14" y1="392.28" x2="421.34" y2="392.28" stroke="#444" stroke-width="0.8"/>
<line x1="418.14" y1="395.96" x2="421.34" y2="395.96" stroke="#444" stroke-width="0.8"/>
<line x1="423.22" y1="414.62" x2="423.22" y2="418.3" stroke="#444" stroke-width="0.8"/>
<line x1="421.62" y1="414.62" x2="424.82" y2="414.62" stroke="#444" stroke-width="0.8"/>
<line x1="421.62" y1="418.3" x2="424.82" y2="418.3" stroke="#444" stroke-width="0.8"/>
<line x1="426.7" y1="379.27" x2="426.7" y2="382.95" stroke="#444" stroke-width="0.8"/>
<line x1="425.1" y1="379.27" x2="428.3" y2="379.27" stroke="#444" stroke-width="0.8"/>
<line x1="425.1" y1="382.95" x2="428.3" y2="382.95" stroke="#444" stroke-width="0.8"/>
<line x1="430.18" y1="377.86" x2="430.18" y2="381.54" stroke="#444" stroke-width="0.8"/>
<line x1="428.58" y1="377.86" x2="431.78" y2="377.86" stroke="#444" stroke-width="0.8"/>
<line x1="428.58" y1="381.54" x2="431.78" y2="381.54" stroke="#444" stroke-width="0.8"/>
<rect x="435.04" y="422.97" width="3.48" height="66.03" fill="url(#p0)" stroke="#222" stroke-width="0.7"/>
<rect x="438.52" y="401.33" width="3.48" height="87.67" fill="url(#p1)" stroke="#222" stroke-width="0.7"/>
<rect x="442" y="409.39" width="3.48" height="79.61" fill="url(#p2)" stroke="#222" stroke-width="0.7"/>
<rect x="445.48" y="349.44" width="3.48" height="139.56" fill="url(#p3)" stroke="#222" stroke-width="0.7"/>
<rect x="448.96" y="369.52" width="3.48" height="119.48" fill="url(#p4)" stroke="#222" stroke-width="0.7"/>
<line x1="436.78" y1="419.29" x2="436.78" y2="422.97" stroke="#444" stroke-width="0.8"/>
<line x1="435.18" y1="419.29" x2="438.38" y2="419.29" stroke="#444" stroke-width="0.8"/>
<line x1="435.18" y1="422.97" x2="438.38" y2="422.97" stroke="#444" stroke-width="0.8"/>
<line x1="440.26" y1="397.66" x2="440.26" y2="401.33" stroke="#444" stroke-width="0.8"/>
<line x1="438.66" y1="397.66" x2="441.86" y2="397.66" stroke="#444" stroke-width="0.8"/>
<line x1="438.66" y1="401.33" x2="441.86" y2="401.33" stroke="#444" stroke-width="0.8"/>
<line x1="443.74" y1="405.72" x2="443.74" y2="409.39" stroke="#444" stroke-width="0.8"/>
<line x1="442.14" y1="405.72" x2="445.34" y2="405.72" stroke="#444" stroke-width="0.8"/>
<line x1="442.14" y1="409.39" x2="445.34" y2="409.39" stroke="#444" stroke-width="0.8"/>
<line x1="447.22" y1="345.76" x2="447.22" y2="349.44" stroke="#444" stroke-width="0.8"/>
<line x1="445.62" y1="345.76" x2="448.82" y2="345.76" stroke="#444" stroke-width="0.8"/>
<line x1="445.62" y1="349.44" x2="448.82" y2="349.44" stroke="#444" stroke-width="0.8"/>
<line x1="450.7" y1="365.84" x2="450.7" y2="369.52" stroke="#444" stroke-width="0.8"/>
<line x1="449.1" y1="365.84" x2="452.3" y2="365.84" stroke="#444" stroke-width="0.8"/>
<line x1="449.1" y1="369.52" x2="452.3" y2="369.52" stroke="#444" stroke-width="0.8"/>
<rect x="455.56" y="359.9" width="3.48" height="129.1" fill="url(#p0)" stroke="#222" stroke-width="0.7"/>
<rect x="459.04" y="353.82" width="3.48" height="135.18" fill="url(#p1)" stroke="#222" stroke-width="0.7"/>
<rect x="462.52" y="397.09" width="3.48" height="91.91" fill="url(#p2)" stroke="#222" stroke-width="0.7"/>
<rect x="466" y="364.71" width="3.48" height="124.29" fill="url(#p3)" stroke="#222" stroke-width="0.7"/>
<rect x="469.48" y="380.55" width="3.48" height="108.45" fill="url(#p4)" stroke="#222" stroke-width="0.7"/>
<line x1="457.3" y1="356.23" x2="457.3" y2="359.9" stroke="#444" stroke-width="0.8"/>
<line x1="455.7" y1="356.23" x2="458.9" y2="356.23" stroke="#444" stroke-width="0.8"/>
<line x1="455.7" y1="359.9" x2="458.9" y2="359.9" stroke="#444" stroke-width="0.8"/>
<line x1="460.78" y1="350.15" x2="460.78" y2="353.82" stroke="#444" stroke-width="0.8"/>
<line x1="459.18" y1="350.15" x2="462.38" y2="350.15" stroke="#444" stroke-width="0.8"/>
<line x1="459.18" y1="353.82" x2="462.38" y2="353.82" stroke="#444" stroke-width="0.8"/>
<line x1="464.26" y1="393.41" x2="464.26" y2="397.09" stroke="#444" stroke-width="0.8"/>
<line x1="462.66" y1="393.41" x2="465.86" y2="393.41" stroke="#444" stroke-width="0.8"/>
<line x1="462.66" y1="397.09" x2="465.86" y2="397.09" stroke="#444" stroke-width="0.8"/>
<line x1="467.74" y1="361.03" x2="467.74" y2="364.71" stroke="#444" stroke-width="0.8"/>
<line x1="466.14" y1="361.03" x2="469.34" y2="361.03" stroke="#444" stroke-width="0.8"/>
<line x1="466.14" y1="364.71" x2="469.34" y2="364.71" stroke="#444" stroke-width="0.8"/>
<line x1="471.22" y1="376.87" x2="471.22" y2="380.55" stroke="#444" stroke-width="0.8"/>
<line x1="469.62" y1="376.87" x2="472.82" y2="376.87" stroke="#444" stroke-width="0.8"/>
<line x1="469.62" y1="380.55" x2="472.82" y2="380.55" stroke="#444" stroke-width="0.8"/>
<rect x="476.08" y="362.87" width="3.48" height="126.13" fill="url(#p0)" stroke="#222" stroke-width="0.7"/>
<rect x="479.56" y="366.69" width="3.48" height="122.31" fill="url(#p1)" stroke="#222" stroke-width="0.7"/>
<rect x="483.04" y="416.89" width="3.48" height="72.11" fill="url(#p2)" stroke="#222" stroke-width="0.7"/>
<rect x="486.52" y="384.65" width="3.48" height="104.35" fill="url(#p3)" stroke="#222" stroke-width="0.7"/>
<rect x="490" y="401.76" width="3.48" height="87.24" fill="url(#p4)" stroke="#222" stroke-width="0.7"/>
<line x1="477.82" y1="359.19" x2="477.82" y2="362.87" stroke="#444" stroke-width="0.8"/>
<line x1="476.22" y1="359.19" x2="479.42" y2="359.19" stroke="#444" stroke-width="0.8"/>
<line x1="476.22" y1="362.87" x2="479.42" y2="362.87" stroke="#444" stroke-width="0.8"/>
<line x1="481.3" y1="363.01" x2="481.3" y2="366.69" stroke="#444" stroke-width="0.8"/>
<line x1="479.7" y1="363.01" x2="482.9" y2="363.01" stroke="#444" stroke-width="0.8"/>
<line x1="479.7" y1="366.69" x2="482.9" y2="366.69" stroke="#444" stroke-width="0.8"/>
<line x1="484.78" y1="413.21" x2="484.78" y2="416.89" stroke="#444" stroke-width="0.8"/>
<line x1="483.18" y1="413.21" x2="486.38" y2="413.21" stroke="#444" stroke-width="0.8"/>
<line x1="483.18" y1="416.89" x2="486.38" y2="416.89" stroke="#444" stroke-width="0.8"/>
<line x1="488.26" y1="380.97" x2="488.26" y2="384.65" stroke="#444" stroke-width="0.8"/>
<line x1="486.66" y1="380.97" x2="489.86" y2="380.97" stroke="#444" stroke-width="0.8"/>
<line x1="486.66" y1="384.65" x2="489.86" y2="384.65" stroke="#444" stroke-width="0.8"/>
<line x1="491.74" y1="398.08" x2="491.74" y2="401.76" stroke="#444" stroke-width="0.8"/>
<line x1="490.14" y1="398.08" x2="493.34" y2="398.08" stroke="#444" stroke-width="0.8"/>
<line x1="490.14" y1="401.76" x2="493.34" y2="401.76" stroke="#444" stroke-width="0.8"/>
<rect x="496.6" y="356.51" width="3.48" height="132.49" fill="url(#p0)" stroke="#222" stroke-width="0.7"/>
<rect x="500.08" y="314.37" width="3.48" height="174.63" fill="url(#p1)" stroke="#222" stroke-width="0.7"/>
<rect x="503.56" y="348.02" width="3.48" height="140.98" fill="url(#p2)" stroke="#222" stroke-width="0.7"/>
<rect x="507.04" y="320.45" width="3.48" height="168.55" fill="url(#p3)" stroke="#222" stroke-width="0.7"/>
<rect x="510.52" y="311.97" width="3.48" height="177.03" fill="url(#p4)" stroke="#222" stroke-width="0.7"/>
<line x1="498.34" y1="352.83" x2="498.34" y2="356.51" stroke="#444" stroke-width="0.8"/>
<line x1="496.74" y1="352.83" x2="499.94" y2="352.83" stroke="#444" stroke-width="0.8"/>
<line x1="496.74" y1="356.51" x2="499.94" y2="356.51" stroke="#444" stroke-width="0.8"/>
<line x1="501.82" y1="310.69" x2="501.82" y2="314.37" stroke="#444" stroke-width="0.8"/>
<line x1="500.22" y1="310.69" x2="503.42" y2="310.69" stroke="#444" stroke-width="0.8"/>
<line x1="500.22" y1="314.37" x2="503.42" y2="314.37" stroke="#444" stroke-width="0.8"/>
<line x1="505.3" y1="344.35" x2="505.3" y2="348.02" stroke="#444" stroke-width="0.8"/>
<line x1="503.7" y1="344.35" x2="506.9" y2="344.35" stroke="#444" stroke-width="0.8"/>
<line x1="503.7" y1="348.02" x2="506.9" y2="348.02" stroke="#444" stroke-width="0.8"/>
<line x1="508.78" y1="316.77" x2="508.78" y2="320.45" stroke="#444" stroke-width="0.8"/>
<line x1="507.18" y1="316.77" x2="510.38" y2="316.77" stroke="#444" stroke-width="0.8"/>
<line x1="507.18" y1="320.45" x2="510.38" y2="320.45" stroke="#444" stroke-width="0.8"/>
<line x1="512.26" y1="308.29" x2="512.26" y2="311.97" stroke="#444" stroke-width="0.8"/>
<line x1="510.66" y1="308.29" x2="513.86" y2="308.29" stroke="#444" stroke-width="0.8"/>
<line x1="510.66" y1="311.97" x2="513.86" y2="311.97" stroke="#444" stroke-width="0.8"/>
<rect x="517.12" y="364.57" width="3.48" height="124.43" fill="url(#p0)" stroke="#222" stroke-width="0.7"/>
<rect x="520.6" y="419.43" width="3.48" height="69.57" fill="url(#p1)" stroke="#222" stroke-width="0.7"/>
<rect x="524.08" y="419.43" width="3.48" height="69.57" fill="url(#p2)" stroke="#222" stroke-width="0.7"/>
<rect x="527.56" y="425.09" width="3.48" height="63.91" fill="url(#p3)" stroke="#222" stroke-width="0.7"/>
<rect x="531.04" y="416.04" width="3.48" height="72.96" fill="url(#p4)" stroke="#222" stroke-width="0.7"/>
<line x1="518.86" y1="360.89" x2="518.86" y2="364.57" stroke="#444" stroke-width="0.8"/>
<line x1="517.26" y1="360.89" x2="520.46" y2="360.89" stroke="#444" stroke-width="0.8"/>
<line x1="517.26" y1="364.57" x2="520.46" y2="364.57" stroke="#444" stroke-width="0.8"/>
<line x1="522.34" y1="415.75" x2="522.34" y2="419.43" stroke="#444" stroke-width="0.8"/>
<line x1="520.74" y1="415.75" x2="523.94" y2="415.75" stroke="#444" stroke-width="0.8"/>
<line x1="520.74" y1="419.43" x2="523.94" y2="419.43" stroke="#444" stroke-width="0.8"/>
<line x1="525.82" y1="415.75" x2="525.82" y2="419.43" stroke="#444" stroke-width="0.8"/>
<line x1="524.22" y1="415.75" x2="527.42" y2="415.75" stroke="#444" stroke-width="0.8"/>
<line x1="524.22" y1="419.43" x2="527.42" y2="419.43" stroke="#444" stroke-width="0.8"/>
<line x1="529.3" y1="421.41" x2="529.3" y2="425.09" stroke="#444" stroke-width="0.8"/>
<line x1="527.7" y1="421.41" x2="530.9" y2="421.41" stroke="#444" stroke-width="0.8"/>
<line x1="527.7" y1="425.09" x2="530.9" y2="425.09" stroke="#444" stroke-width="0.8"/>
<line x1="532.78" y1="412.36" x2="532.78" y2="416.04" stroke="#444" stroke-width="0.8"/>
<line x1="531.18" y1="412.36" x2="534.38" y2="412.36" stroke="#444" stroke-width="0.8"/>
<line x1="531.18" y1="416.04" x2="534.38" y2="416.04" stroke="#444" stroke-width="0.8"/>
<rect x="537.64" y="344.63" width="3.48" height="144.37" fill="url(#p0)" stroke="#222" stroke-width="0.7"/>
<rect x="541.12" y="312.82" width="3.48" height="176.18" fill="url(#p1)" stroke="#222" stroke-width="0.7"/>
<rect x="544.6" y="372.63" width="3.48" height="116.37" fill="url(#p2)" stroke="#222" stroke-width="0.7"/>
<rect x="548.08" y="321.44" width="3.48" height="167.56" fill="url(#p3)" stroke="#222" stroke-width="0.7"/>
<rect x="551.56" y="346.75" width="3.48" height="142.25" fill="url(#p4)" stroke="#222" stroke-width="0.7"/>
<line x1="539.38" y1="340.95" x2="539.38" y2="344.63" stroke="#444" stroke-width="0.8"/>
<line x1="537.78" y1="340.95" x2="540.98" y2="340.95" stroke="#444" stroke-width="0.8"/>
<line x1="537.78" y1="344.63" x2="540.98" y2="344.63" stroke="#444" stroke-width="0.8"/>
<line x1="542.86" y1="309.14" x2="542.86" y2="312.82" stroke="#444" stroke-width="0.8"/>
<line x1="541.26" y1="309.14" x2="544.46" y2="309.14" stroke="#444" stroke-width="0.8"/>
<line x1="541.26" y1="312.82" x2="544.46" y2="312.82" stroke="#444" stroke-width="0.8"/>
<line x1="546.34" y1="368.95" x2="546.34" y2="372.63" stroke="#444" stroke-width="0.8"/>
<line x1="544.74" y1="368.95" x2="547.94" y2="368.95" stroke="#444" stroke-width="0.8"/>
<line x1="544.74" y1="372.63" x2="547.94" y2="372.63" stroke="#444" stroke-width="0.8"/>
<line x1="549.82" y1="317.76" x2="549.82" y2="321.44" stroke="#444" stroke-width="0.8"/>
<line x1="548.22" y1="317.76" x2="551.42" y2="317.76" stroke="#444" stroke-width="0.8"/>
<line x1="548.22" y1="321.44" x2="551.42" y2="321.44" stroke="#444" stroke-width="0.8"/>
<line x1="553.3" y1="343.08" x2="553.3" y2="346.75" stroke="#444" stroke-width="0.8"/>
<line x1="551.7" y1="343.08" x2="554.9" y2="343.08" stroke="#444" stroke-width="0.8"/>
<line x1="551.7" y1="346.75" x2="554.9" y2="346.75" stroke="#444" stroke-width="0.8"/>
<rect x="558.16" y="474.44" width="3.48" height="14.56" fill="url(#p0)" stroke="#222" stroke-width="0.7"/>
<rect x="561.64" y="463.41" width="3.48" height="25.59" fill="url(#p1)" stroke="#222" stroke-width="0.7"/>
<rect x="565.12" y="378.99" width="3.48" height="110.01" fill="url(#p2)" stroke="#222" stroke-width="0.7"/>
<rect x="568.6" y="341.66" width="3.48" height="147.34" fill="url(#p3)" stroke="#222" stroke-width="0.7"/>
<rect x="572.08" y="373.33" width="3.48" height="115.67" fill="url(#p4)" stroke="#222" stroke-width="0.7"/>
<line x1="559.9" y1="470.76" x2="559.9" y2="474.44" stroke="#444" stroke-width="0.8"/>
<line x1="558.3" y1="470.76" x2="561.5" y2="470.76" stroke="#444" stroke-width="0.8"/>
<line x1="558.3" y1="474.44" x2="561.5" y2="474.44" stroke="#444" stroke-width="0.8"/>
<line x1="563.38" y1="459.73" x2="563.38" y2="463.41" stroke="#444" stroke-width="0.8"/>
<line x1="561.78" y1="459.73" x2="564.98" y2="459.73" stroke="#444" stroke-width="0.8"/>
<line x1="561.78" y1="463.41" x2="564.98" y2="463.41" stroke="#444" stroke-width="0.8"/>
<line x1="566.86" y1="375.31" x2="566.86" y2="378.99" stroke="#444" stroke-width="0.8"/>
<line x1="565.26" y1="375.31" x2="568.46" y2="375.31" stroke="#444" stroke-width="0.8"/>
<line x1="565.26" y1="378.99" x2="568.46" y2="378.99" stroke="#444" stroke-width="0.8"/>
<line x1="570.34" y1="337.98" x2="570.34" y2="341.66" stroke="#444" stroke-width="0.8"/>
<line x1="568.74" y1="337.98" x2="571.94" y2="337.98" stroke="#444" stroke-width="0.8"/>
<line x1="568.74" y1="341.66" x2="571.94" y2="341.66" stroke="#444" stroke-width="0.8"/>
<line x1="573.82" y1="369.66" x2="573.82" y2="373.33" stroke="#444" stroke-width="0.8"/>
<line x1="572.22" y1="369.66" x2="575.42" y2="369.66" stroke="#444" stroke-width="0.8"/>
<line x1="572.22" y1="373.33" x2="575.42" y2="373.33" stroke="#444" stroke-width="0.8"/>
<rect x="578.68" y="334.17" width="3.48" height="154.83" fill="url(#p0)" stroke="#222" stroke-width="0.7"/>
<rect x="582.16" y="348.87" width="3.48" height="140.13" fill="url(#p1)" stroke="#222" stroke-width="0.7"/>
<rect x="585.64" y="348.02" width="3.48" height="140.98" fill="url(#p2)" stroke="#222" stroke-width="0.7"/>
<rect x="589.12" y="313.24" width="3.48" height="175.76" fill="url(#p3)" stroke="#222" stroke-width="0.7"/>
<rect x="592.6" y="319.46" width="3.48" height="169.54" fill="url(#p4)" stroke="#222" stroke-width="0.7"/>
<line x1="580.42" y1="330.49" x2="580.42" y2="334.17" stroke="#444" stroke-width="0.8"/>
<line x1="578.82" y1="330.49" x2="582.02" y2="330.49" stroke="#444" stroke-width="0.8"/>
<line x1="578.82" y1="334.17" x2="582.02" y2="334.17" stroke="#444" stroke-width="0.8"/>
<line x1="583.9" y1="345.2" x2="583.9" y2="348.87" stroke="#444" stroke-width="0.8"/>
<line x1="582.3" y1="345.2" x2="585.5" y2="345.2" stroke="#444" stroke-width="0.8"/>
<line x1="582.3" y1="348.87" x2="585.5" y2="348.87" stroke="#444" stroke-width="0.8"/>
<line x1="587.38" y1="344.35" x2="587.38" y2="348.02" stroke="#444" stroke-width="0.8"/>
<line x1="585.78" y1="344.35" x2="588.98" y2="344.35" stroke="#444" stroke-width="0.8"/>
<line x1="585.78" y1="348.02" x2="588.98" y2="348.02" stroke="#444" stroke-width="0.8"/>
<line x1="590.86" y1="309.56" x2="590.86" y2="313.24" stroke="#444" stroke-width="0.8"/>
<line x1="589.26" y1="309.56" x2="592.46" y2="309.56" stroke="#444" stroke-width="0.8"/>
<line x1="589.26" y1="313.24" x2="592.46" y2="313.24" stroke="#444" stroke-width="0.8"/>
<line x1="594.34" y1="315.78" x2="594.34" y2="319.46" stroke="#444" stroke-width="0.8"/>
<line x1="592.74" y1="315.78" x2="595.94" y2="315.78" stroke="#444" stroke-width="0.8"/>
<line x1="592.74" y1="319.46" x2="595.94" y2="319.46" stroke="#444" stroke-width="0.8"/>
<rect x="599.2" y="478.25" width="3.48" height="10.75" fill="url(#p0)" stroke="#222" stroke-width="0.7"/>
<rect x="602.68" y="473.87" width="3.48" height="15.13" fill="url(#p1)" stroke="#222" stroke-width="0.7"/>
<rect x="606.16" y="483.2" width="3.48" height="5.8" fill="url(#p2)" stroke="#222" stroke-width="0.7"/>
<rect x="609.64" y="485.04" width="3.48" height="3.96" fill="url(#p3)" stroke="#222" stroke-width="0.7"/>
<rect x="613.12" y="486.88" width="3.48" height="2.12" fill="url(#p4)" stroke="#222" stroke-width="0.7"/>
<line x1="600.94" y1="474.58" x2="600.94" y2="478.25" stroke="#444" stroke-width="0.8"/>
<line x1="599.34" y1="474.58" x2="602.54" y2="474.58" stroke="#444" stroke-width="0.8"/>
<line x1="599.34" y1="478.25" x2="602.54" y2="478.25" stroke="#444" stroke-width="0.8"/>
<line x1="604.42" y1="470.19" x2="604.42" y2="473.87" stroke="#444" stroke-width="0.8"/>
<line x1="602.82" y1="470.19" x2="606.02" y2="470.19" stroke="#444" stroke-width="0.8"/>
<line x1="602.82" y1="473.87" x2="606.02" y2="473.87" stroke="#444" stroke-width="0.8"/>
<line x1="607.9" y1="479.53" x2="607.9" y2="483.2" stroke="#444" stroke-width="0.8"/>
<line x1="606.3" y1="479.53" x2="609.5" y2="479.53" stroke="#444" stroke-width="0.8"/>
<line x1="606.3" y1="483.2" x2="609.5" y2="483.2" stroke="#444" stroke-width="0.8"/>
<line x1="611.38" y1="481.36" x2="611.38" y2="485.04" stroke="#444" stroke-width="0.8"/>
<line x1="609.78" y1="481.36" x2="612.98" y2="481.36" stroke="#444" stroke-width="0.8"/>
<line x1="609.78" y1="485.04" x2="612.98" y2="485.04" stroke="#444" stroke-width="0.8"/>
<line x1="614.86" y1="483.2" x2="614.86" y2="486.88" stroke="#444" stroke-width="0.8"/>
<line x1="613.26" y1="483.2" x2="616.46" y2="483.2" stroke="#444" stroke-width="0.8"/>
<line x1="613.26" y1="486.88" x2="616.46" y2="486.88" stroke="#444" stroke-width="0.8"/>
<rect x="619.72" y="339.12" width="3.48" height="149.88" fill="url(#p0)" stroke="#222" stroke-width="0.7"/>
<rect x="623.2" y="339.96" width="3.48" height="149.04" fill="url(#p1)" stroke="#222" stroke-width="0.7"/>
<rect x="626.68" y="379.98" width="3.48" height="109.02" fill="url(#p2)" stroke="#222" stroke-width="0.7"/>
<rect x="630.16" y="323.84" width="3.48" height="165.16" fill="url(#p3)" stroke="#222" stroke-width="0.7"/>
<rect x="633.64" y="345.34" width="3.48" height="143.66" fill="url(#p4)" stroke="#222" stroke-width="0.7"/>
<line x1="621.46" y1="335.44" x2="621.46" y2="339.12" stroke="#444" stroke-width="0.8"/>
<line x1="619.86" y1="335.44" x2="623.06" y2="335.44" stroke="#444" stroke-width="0.8"/>
<line x1="619.86" y1="339.12" x2="623.06" y2="339.12" stroke="#444" stroke-width="0.8"/>
<line x1="624.94" y1="336.29" x2="624.94" y2="339.96" stroke="#444" stroke-width="0.8"/>
<line x1="623.34" y1="336.29" x2="626.54" y2="336.29" stroke="#444" stroke-width="0.8"/>
<line x1="623.34" y1="339.96" x2="626.54" y2="339.96" stroke="#444" stroke-width="0.8"/>
<line x1="628.42" y1="376.3" x2="628.42" y2="379.98" stroke="#444" stroke-width="0.8"/>
<line x1="626.82" y1="376.3" x2="630.02" y2="376.3" stroke="#444" stroke-width="0.8"/>
<line x1="626.82" y1="379.98" x2="630.02" y2="379.98" stroke="#444" stroke-width="0.8"/>
<line x1="631.9" y1="320.17" x2="631.9" y2="323.84" stroke="#444" stroke-width="0.8"/>
<line x1="630.3" y1="320.17" x2="633.5" y2="320.17" stroke="#444" stroke-width="0.8"/>
<line x1="630.3" y1="323.84" x2="633.5" y2="323.84" stroke="#444" stroke-width="0.8"/>
<line x1="635.38" y1="341.66" x2="635.38" y2="345.34" stroke="#444" stroke-width="0.8"/>
<line x1="633.78" y1="341.66" x2="636.98" y2="341.66" stroke="#444" stroke-width="0.8"/>
<line x1="633.78" y1="345.34" x2="636.98" y2="345.34" stroke="#444" stroke-width="0.8"/>
<path d="M381.7 290.6 V489 H648.9" fill="none" stroke="#333" stroke-width="1.6"/>
<line x1="381.7" y1="489" x2="385.5" y2="489" stroke="#333" stroke-width="1.2"/>
<text transform="translate(378 492.5) scale(0.9346 1)" font-size="11.56" text-anchor="end" font-family='"Liberation Serif", serif' font-weight="normal" fill="#111" stroke="#111" stroke-width="0.4">0</text>
<line x1="381.7" y1="460.72" x2="385.5" y2="460.72" stroke="#333" stroke-width="1.2"/>
<text transform="translate(378 464.22) scale(0.9346 1)" font-size="11.56" text-anchor="end" font-family='"Liberation Serif", serif' font-weight="normal" fill="#111" stroke="#111" stroke-width="0.4">20</text>
<line x1="381.7" y1="432.44" x2="385.5" y2="432.44" stroke="#333" stroke-width="1.2"/>
<text transform="translate(378 435.94) scale(0.9346 1)" font-size="11.56" text-anchor="end" font-family='"Liberation Serif", serif' font-weight="normal" fill="#111" stroke="#111" stroke-width="0.4">40</text>
<line x1="381.7" y1="404.16" x2="385.5" y2="404.16" stroke="#333" stroke-width="1.2"/>
<text transform="translate(378 407.66) scale(0.9346 1)" font-size="11.56" text-anchor="end" font-family='"Liberation Serif", serif' font-weight="normal" fill="#111" stroke="#111" stroke-width="0.4">60</text>
<line x1="381.7" y1="375.88" x2="385.5" y2="375.88" stroke="#333" stroke-width="1.2"/>
<text transform="translate(378 379.38) scale(0.9346 1)" font-size="11.56" text-anchor="end" font-family='"Liberation Serif", serif' font-weight="normal" fill="#111" stroke="#111" stroke-width="0.4">80</text>
<line x1="381.7" y1="347.6" x2="385.5" y2="347.6" stroke="#333" stroke-width="1.2"/>
<text transform="translate(378 351.1) scale(0.9346 1)" font-size="11.56" text-anchor="end" font-family='"Liberation Serif", serif' font-weight="normal" fill="#111" stroke="#111" stroke-width="0.4">100</text>
<line x1="381.7" y1="319.32" x2="385.5" y2="319.32" stroke="#333" stroke-width="1.2"/>
<text transform="translate(378 322.82) scale(0.9346 1)" font-size="11.56" text-anchor="end" font-family='"Liberation Serif", serif' font-weight="normal" fill="#111" stroke="#111" stroke-width="0.4">120</text>
<line x1="381.7" y1="291.04" x2="385.5" y2="291.04" stroke="#333" stroke-width="1.2"/>
<text transform="translate(378 294.54) scale(0.9346 1)" font-size="11.56" text-anchor="end" font-family='"Liberation Serif", serif' font-weight="normal" fill="#111" stroke="#111" stroke-width="0.4">140</text>
<line x1="381.7" y1="474.86" x2="383.7" y2="474.86" stroke="#333" stroke-width="1.2"/>
<line x1="381.7" y1="446.58" x2="383.7" y2="446.58" stroke="#333" stroke-width="1.2"/>
<line x1="381.7" y1="418.3" x2="383.7" y2="418.3" stroke="#333" stroke-width="1.2"/>
<line x1="381.7" y1="390.02" x2="383.7" y2="390.02" stroke="#333" stroke-width="1.2"/>
<line x1="381.7" y1="361.74" x2="383.7" y2="361.74" stroke="#333" stroke-width="1.2"/>
<line x1="381.7" y1="333.46" x2="383.7" y2="333.46" stroke="#333" stroke-width="1.2"/>
<line x1="381.7" y1="305.18" x2="383.7" y2="305.18" stroke="#333" stroke-width="1.2"/>
<line x1="392.2" y1="489" x2="392.2" y2="486.2" stroke="#333" stroke-width="1.2"/>
<line x1="412.72" y1="489" x2="412.72" y2="486.2" stroke="#333" stroke-width="1.2"/>
<line x1="433.24" y1="489" x2="433.24" y2="486.2" stroke="#333" stroke-width="1.2"/>
<line x1="453.76" y1="489" x2="453.76" y2="486.2" stroke="#333" stroke-width="1.2"/>
<line x1="474.28" y1="489" x2="474.28" y2="486.2" stroke="#333" stroke-width="1.2"/>
<line x1="494.8" y1="489" x2="494.8" y2="486.2" stroke="#333" stroke-width="1.2"/>
<line x1="515.32" y1="489" x2="515.32" y2="486.2" stroke="#333" stroke-width="1.2"/>
<line x1="535.84" y1="489" x2="535.84" y2="486.2" stroke="#333" stroke-width="1.2"/>
<line x1="556.36" y1="489" x2="556.36" y2="486.2" stroke="#333" stroke-width="1.2"/>
<line x1="576.88" y1="489" x2="576.88" y2="486.2" stroke="#333" stroke-width="1.2"/>
<line x1="597.4" y1="489" x2="597.4" y2="486.2" stroke="#333" stroke-width="1.2"/>
<line x1="617.92" y1="489" x2="617.92" y2="486.2" stroke="#333" stroke-width="1.2"/>
<line x1="638.44" y1="489" x2="638.44" y2="486.2" stroke="#333" stroke-width="1.2"/>
<line x1="648.9" y1="489.6" x2="648.9" y2="485.2" stroke="#333" stroke-width="1.4"/>
<text transform="translate(402.7 499.8) scale(0.8850 1)" font-size="10.4" text-anchor="middle" font-family='"Liberation Serif", serif' font-weight="normal" fill="#111" stroke="#111" stroke-width="0.4">None</text>
<text transform="translate(424.22 501.8) scale(0.8850 1)" font-size="10.4" text-anchor="middle" font-family='"Liberation Serif", serif' font-weight="normal" fill="#111" stroke="#111" stroke-width="0.4">Sr<tspan font-size="5.8" dy="-5">2+</tspan></text>
<text transform="translate(444.74 501.8) scale(0.8850 1)" font-size="10.4" text-anchor="middle" font-family='"Liberation Serif", serif' font-weight="normal" fill="#111" stroke="#111" stroke-width="0.4">Ni<tspan font-size="5.8" dy="-5">2+</tspan></text>
<text transform="translate(465.26 501.8) scale(0.8850 1)" font-size="10.4" text-anchor="middle" font-family='"Liberation Serif", serif' font-weight="normal" fill="#111" stroke="#111" stroke-width="0.4">Ca<tspan font-size="5.8" dy="-5">2+</tspan></text>
<text transform="translate(485.78 501.8) scale(0.8850 1)" font-size="10.4" text-anchor="middle" font-family='"Liberation Serif", serif' font-weight="normal" fill="#111" stroke="#111" stroke-width="0.4">Ba<tspan font-size="5.8" dy="-5">2+</tspan></text>
<text transform="translate(506.3 501.8) scale(0.8850 1)" font-size="10.4" text-anchor="middle" font-family='"Liberation Serif", serif' font-weight="normal" fill="#111" stroke="#111" stroke-width="0.4">Mn<tspan font-size="5.8" dy="-5">2+</tspan></text>
<text transform="translate(526.82 501.8) scale(0.8850 1)" font-size="10.4" text-anchor="middle" font-family='"Liberation Serif", serif' font-weight="normal" fill="#111" stroke="#111" stroke-width="0.4">Mg<tspan font-size="5.8" dy="-5">2+</tspan></text>
<text transform="translate(547.34 501.8) scale(0.8850 1)" font-size="10.4" text-anchor="middle" font-family='"Liberation Serif", serif' font-weight="normal" fill="#111" stroke="#111" stroke-width="0.4">Fe<tspan font-size="5.8" dy="-5">2+</tspan></text>
<text transform="translate(567.86 501.8) scale(0.8850 1)" font-size="10.4" text-anchor="middle" font-family='"Liberation Serif", serif' font-weight="normal" fill="#111" stroke="#111" stroke-width="0.4">Fe<tspan font-size="5.8" dy="-5">3+</tspan></text>
<text transform="translate(588.38 501.8) scale(0.8850 1)" font-size="10.4" text-anchor="middle" font-family='"Liberation Serif", serif' font-weight="normal" fill="#111" stroke="#111" stroke-width="0.4">K<tspan font-size="5.8" dy="-5">+</tspan></text>
<text transform="translate(608.9 501.8) scale(0.8850 1)" font-size="10.4" text-anchor="middle" font-family='"Liberation Serif", serif' font-weight="normal" fill="#111" stroke="#111" stroke-width="0.4">Cu<tspan font-size="5.8" dy="-5">2+</tspan></text>
<text transform="translate(629.42 501.8) scale(0.8850 1)" font-size="10.4" text-anchor="middle" font-family='"Liberation Serif", serif' font-weight="normal" fill="#111" stroke="#111" stroke-width="0.4">Na<tspan font-size="5.8" dy="-5">+</tspan></text>
<text transform="translate(353 397.3) rotate(-90) scale(1 1)" font-size="11.2" text-anchor="middle" font-family='"Liberation Serif", serif' font-weight="normal" fill="#111" stroke="#111" stroke-width="0.4">Relative activity (%)</text>
<rect x="597.2" y="265.1" width="86.4" height="54.8" fill="#fff" stroke="#6a6a6a" stroke-width="1"/>
<rect x="600.3" y="267.9" width="18.8" height="8.4" fill="url(#p0)" stroke="#333" stroke-width="0.8"/>
<line x1="600.3" y1="276.5" x2="619.1" y2="276.5" stroke="#222" stroke-width="1.5"/>
<text transform="translate(621.2 275.1) scale(0.8850 1)" font-size="9.44" text-anchor="start" font-family='"Liberation Serif", serif' font-weight="normal" fill="#111" stroke="#111" stroke-width="0.4">Soluble starch</text>
<rect x="600.3" y="278.3" width="18.8" height="8.4" fill="url(#p1)" stroke="#333" stroke-width="0.8"/>
<line x1="600.3" y1="286.9" x2="619.1" y2="286.9" stroke="#222" stroke-width="1.5"/>
<text transform="translate(621.2 285.5) scale(0.8850 1)" font-size="9.44" text-anchor="start" font-family='"Liberation Serif", serif' font-weight="normal" fill="#111" stroke="#111" stroke-width="0.4">Agarose</text>
<rect x="600.3" y="288.7" width="18.8" height="8.4" fill="url(#p2)" stroke="#333" stroke-width="0.8"/>
<line x1="600.3" y1="297.3" x2="619.1" y2="297.3" stroke="#222" stroke-width="1.5"/>
<text transform="translate(621.2 295.9) scale(0.8850 1)" font-size="9.44" text-anchor="start" font-family='"Liberation Serif", serif' font-weight="normal" fill="#111" stroke="#111" stroke-width="0.4">Carrageen</text>
<rect x="600.3" y="299.1" width="18.8" height="8.4" fill="url(#p3)" stroke="#333" stroke-width="0.8"/>
<line x1="600.3" y1="307.7" x2="619.1" y2="307.7" stroke="#222" stroke-width="1.5"/>
<text transform="translate(621.2 306.3) scale(0.8850 1)" font-size="9.44" text-anchor="start" font-family='"Liberation Serif", serif' font-weight="normal" fill="#111" stroke="#111" stroke-width="0.4">Alginate</text>
<rect x="600.3" y="309.5" width="18.8" height="8.4" fill="url(#p4)" stroke="#333" stroke-width="0.8"/>
<line x1="600.3" y1="318.1" x2="619.1" y2="318.1" stroke="#222" stroke-width="1.5"/>
<text transform="translate(621.2 316.7) scale(0.8850 1)" font-size="9.44" text-anchor="start" font-family='"Liberation Serif", serif' font-weight="normal" fill="#111" stroke="#111" stroke-width="0.4">Sodium cellulose</text>
</svg></body></html>
